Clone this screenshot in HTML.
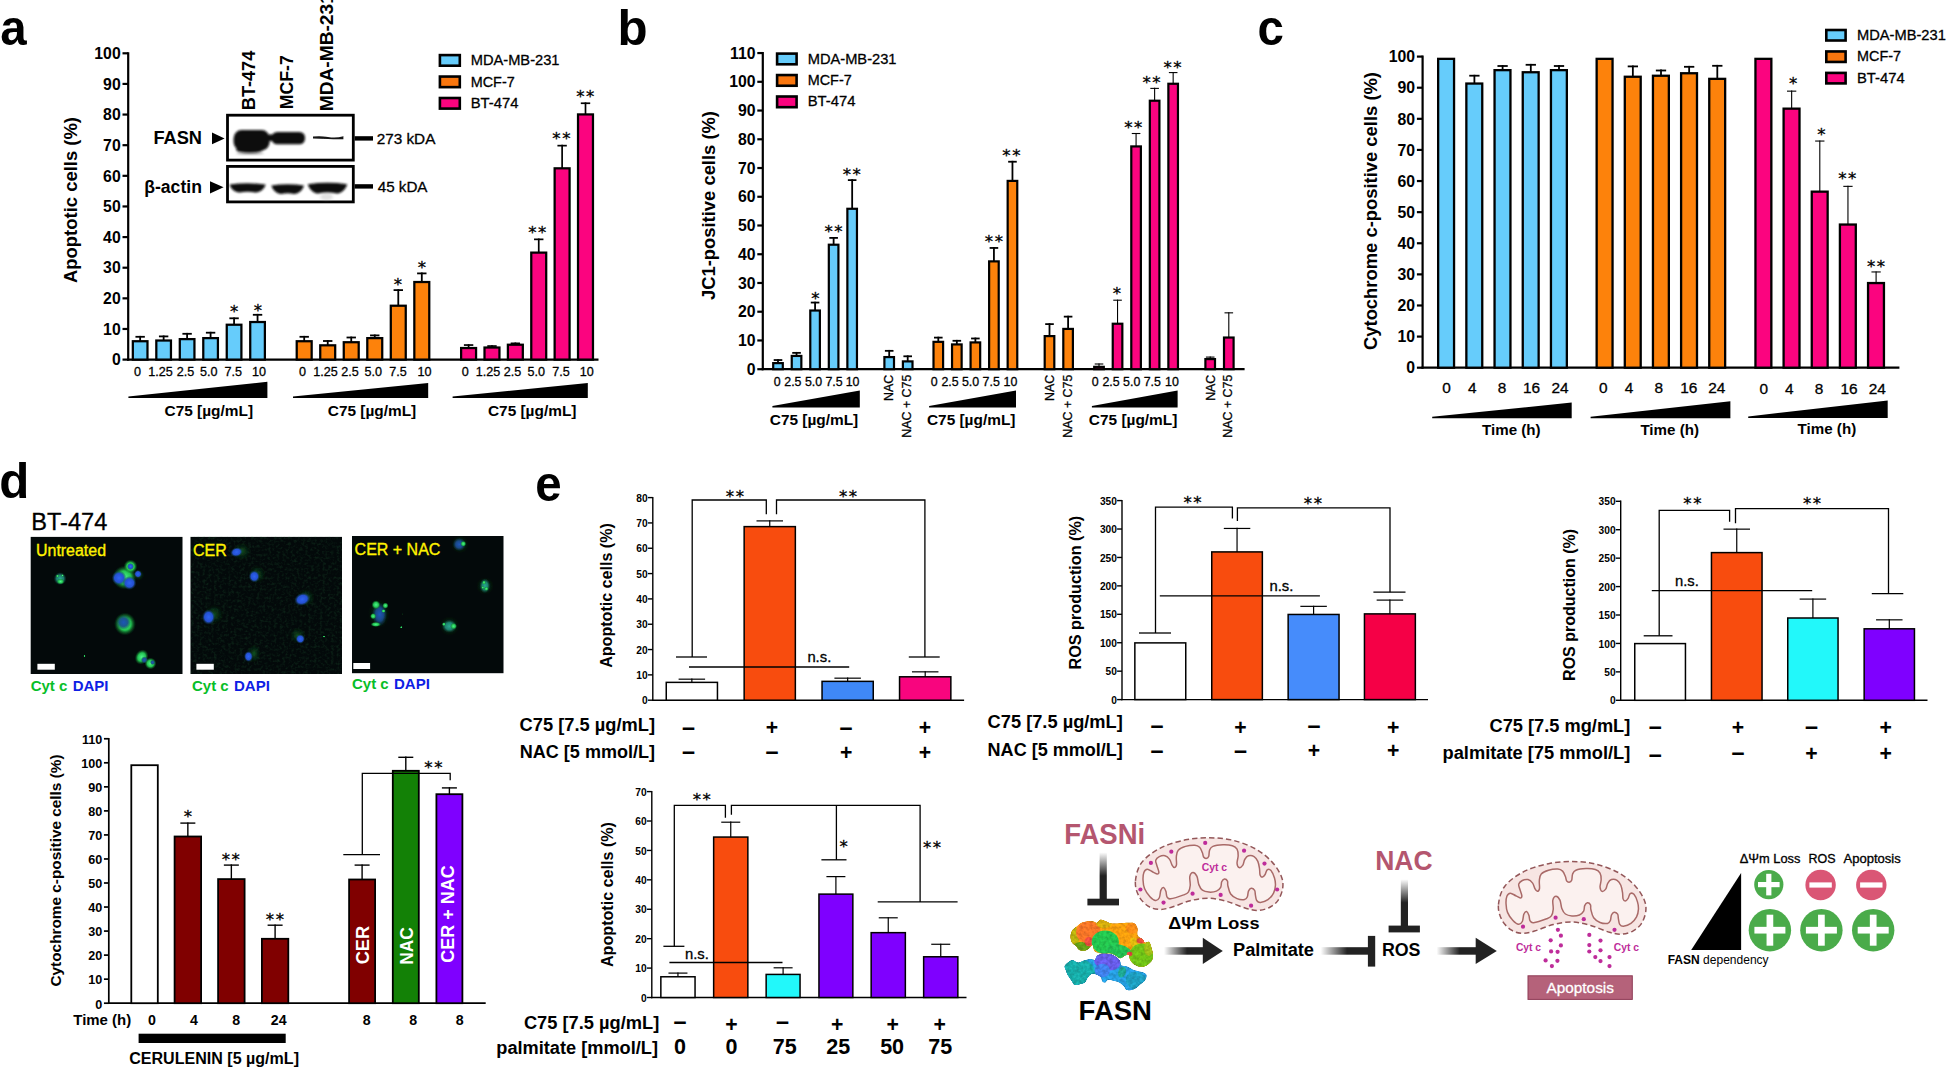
<!DOCTYPE html>
<html lang="en"><head><meta charset="utf-8"><title>FASN figure</title>
<style>html,body{margin:0;padding:0;background:#fff;overflow:hidden}svg{display:block}</style></head>
<body>
<svg width="1946" height="1068" viewBox="0 0 1946 1068" font-family="'Liberation Sans', sans-serif">
<rect width="1946" height="1068" fill="#fff"/>
<defs>
<filter id="b1" x="-30%" y="-30%" width="160%" height="160%"><feGaussianBlur stdDeviation="1"/></filter>
<filter id="b15" x="-30%" y="-30%" width="160%" height="160%"><feGaussianBlur stdDeviation="1.5"/></filter>
<filter id="b2" x="-30%" y="-30%" width="160%" height="160%"><feGaussianBlur stdDeviation="2.2"/></filter>
<filter id="b06" x="-30%" y="-30%" width="160%" height="160%"><feGaussianBlur stdDeviation="0.6"/></filter>
<linearGradient id="fadeR" x1="0" x2="1" y1="0" y2="0"><stop offset="0" stop-color="#222" stop-opacity="0"/><stop offset="0.55" stop-color="#222" stop-opacity="1"/></linearGradient>
<linearGradient id="fadeD" x1="0" x2="0" y1="0" y2="1"><stop offset="0" stop-color="#222" stop-opacity="0"/><stop offset="0.5" stop-color="#222" stop-opacity="1"/></linearGradient>
</defs>
<text x="0.2" y="44.9" font-size="50" font-weight="bold" textLength="26.41" lengthAdjust="spacingAndGlyphs">a</text>
<text x="617.6" y="44.7" font-size="50" font-weight="bold" textLength="30.09" lengthAdjust="spacingAndGlyphs">b</text>
<text x="1257.4" y="44.7" font-size="50" font-weight="bold" textLength="26.41" lengthAdjust="spacingAndGlyphs">c</text>
<text x="-0.8" y="498.2" font-size="50" font-weight="bold" textLength="30.09" lengthAdjust="spacingAndGlyphs">d</text>
<text x="535.2" y="501.2" font-size="50" font-weight="bold" textLength="26.41" lengthAdjust="spacingAndGlyphs">e</text>
<line x1="128.2" y1="52.2" x2="128.2" y2="360.7" stroke="#000" stroke-width="2.2"/>
<line x1="122.5" y1="359.6" x2="128.2" y2="359.6" stroke="#000" stroke-width="2.2"/>
<text x="120.7" y="365.29" font-size="15.8" font-weight="bold" text-anchor="end">0</text>
<line x1="122.5" y1="328.97" x2="128.2" y2="328.97" stroke="#000" stroke-width="2.2"/>
<text x="120.7" y="334.66" font-size="15.8" font-weight="bold" text-anchor="end">10</text>
<line x1="122.5" y1="298.34" x2="128.2" y2="298.34" stroke="#000" stroke-width="2.2"/>
<text x="120.7" y="304.03" font-size="15.8" font-weight="bold" text-anchor="end">20</text>
<line x1="122.5" y1="267.71" x2="128.2" y2="267.71" stroke="#000" stroke-width="2.2"/>
<text x="120.7" y="273.4" font-size="15.8" font-weight="bold" text-anchor="end">30</text>
<line x1="122.5" y1="237.08" x2="128.2" y2="237.08" stroke="#000" stroke-width="2.2"/>
<text x="120.7" y="242.77" font-size="15.8" font-weight="bold" text-anchor="end">40</text>
<line x1="122.5" y1="206.45" x2="128.2" y2="206.45" stroke="#000" stroke-width="2.2"/>
<text x="120.7" y="212.14" font-size="15.8" font-weight="bold" text-anchor="end">50</text>
<line x1="122.5" y1="175.82" x2="128.2" y2="175.82" stroke="#000" stroke-width="2.2"/>
<text x="120.7" y="181.51" font-size="15.8" font-weight="bold" text-anchor="end">60</text>
<line x1="122.5" y1="145.19" x2="128.2" y2="145.19" stroke="#000" stroke-width="2.2"/>
<text x="120.7" y="150.88" font-size="15.8" font-weight="bold" text-anchor="end">70</text>
<line x1="122.5" y1="114.56" x2="128.2" y2="114.56" stroke="#000" stroke-width="2.2"/>
<text x="120.7" y="120.25" font-size="15.8" font-weight="bold" text-anchor="end">80</text>
<line x1="122.5" y1="83.93" x2="128.2" y2="83.93" stroke="#000" stroke-width="2.2"/>
<text x="120.7" y="89.62" font-size="15.8" font-weight="bold" text-anchor="end">90</text>
<line x1="122.5" y1="53.3" x2="128.2" y2="53.3" stroke="#000" stroke-width="2.2"/>
<text x="120.7" y="58.99" font-size="15.8" font-weight="bold" text-anchor="end">100</text>
<line x1="127.1" y1="359.6" x2="598.5" y2="359.6" stroke="#000" stroke-width="2.2"/>
<text x="76.5" y="200" font-size="18.2" font-weight="bold" text-anchor="middle" transform="rotate(-90 76.5 200)" textLength="166" lengthAdjust="spacingAndGlyphs">Apoptotic cells (%)</text>
<line x1="140.15" y1="335.9" x2="140.15" y2="341.1" stroke="#000" stroke-width="1.8"/>
<line x1="135.45" y1="336.8" x2="144.85" y2="336.8" stroke="#000" stroke-width="1.8"/>
<rect x="132.83" y="341.23" width="14.65" height="18.38" fill="#66CCFB" stroke="#000" stroke-width="2.25"/>
<line x1="163.63" y1="335.5" x2="163.63" y2="340.4" stroke="#000" stroke-width="1.8"/>
<line x1="158.93" y1="336.4" x2="168.33" y2="336.4" stroke="#000" stroke-width="1.8"/>
<rect x="156.31" y="340.52" width="14.65" height="19.08" fill="#66CCFB" stroke="#000" stroke-width="2.25"/>
<line x1="187.11" y1="332.9" x2="187.11" y2="339" stroke="#000" stroke-width="1.8"/>
<line x1="182.41" y1="333.8" x2="191.81" y2="333.8" stroke="#000" stroke-width="1.8"/>
<rect x="179.79" y="339.12" width="14.65" height="20.48" fill="#66CCFB" stroke="#000" stroke-width="2.25"/>
<line x1="210.59" y1="331.8" x2="210.59" y2="338" stroke="#000" stroke-width="1.8"/>
<line x1="205.89" y1="332.7" x2="215.29" y2="332.7" stroke="#000" stroke-width="1.8"/>
<rect x="203.27" y="338.12" width="14.65" height="21.48" fill="#66CCFB" stroke="#000" stroke-width="2.25"/>
<line x1="234.07" y1="317.4" x2="234.07" y2="324.6" stroke="#000" stroke-width="1.8"/>
<line x1="229.37" y1="318.3" x2="238.77" y2="318.3" stroke="#000" stroke-width="1.8"/>
<rect x="226.75" y="324.73" width="14.65" height="34.88" fill="#66CCFB" stroke="#000" stroke-width="2.25"/>
<line x1="257.55" y1="313.9" x2="257.55" y2="321.9" stroke="#000" stroke-width="1.8"/>
<line x1="252.85" y1="314.8" x2="262.25" y2="314.8" stroke="#000" stroke-width="1.8"/>
<rect x="250.23" y="322.02" width="14.65" height="37.58" fill="#66CCFB" stroke="#000" stroke-width="2.25"/>
<text x="137.6" y="376.2" font-size="12.6" stroke="#000" stroke-width="0.3" text-anchor="middle">0</text>
<text x="160.4" y="376.2" font-size="12.6" stroke="#000" stroke-width="0.3" text-anchor="middle">1.25</text>
<text x="185.4" y="376.2" font-size="12.6" stroke="#000" stroke-width="0.3" text-anchor="middle">2.5</text>
<text x="208.7" y="376.2" font-size="12.6" stroke="#000" stroke-width="0.3" text-anchor="middle">5.0</text>
<text x="233.2" y="376.2" font-size="12.6" stroke="#000" stroke-width="0.3" text-anchor="middle">7.5</text>
<text x="259.1" y="376.2" font-size="12.6" stroke="#000" stroke-width="0.3" text-anchor="middle">10</text>
<line x1="304.2" y1="335.9" x2="304.2" y2="341.1" stroke="#000" stroke-width="1.8"/>
<line x1="299.5" y1="336.8" x2="308.9" y2="336.8" stroke="#000" stroke-width="1.8"/>
<rect x="296.72" y="341.23" width="14.95" height="18.38" fill="#FD820B" stroke="#000" stroke-width="2.25"/>
<line x1="327.72" y1="340.1" x2="327.72" y2="345.2" stroke="#000" stroke-width="1.8"/>
<line x1="323.02" y1="341" x2="332.42" y2="341" stroke="#000" stroke-width="1.8"/>
<rect x="320.24" y="345.32" width="14.95" height="14.28" fill="#FD820B" stroke="#000" stroke-width="2.25"/>
<line x1="351.24" y1="336.6" x2="351.24" y2="342.1" stroke="#000" stroke-width="1.8"/>
<line x1="346.54" y1="337.5" x2="355.94" y2="337.5" stroke="#000" stroke-width="1.8"/>
<rect x="343.76" y="342.23" width="14.95" height="17.38" fill="#FD820B" stroke="#000" stroke-width="2.25"/>
<line x1="374.76" y1="334.5" x2="374.76" y2="338" stroke="#000" stroke-width="1.8"/>
<line x1="370.06" y1="335.4" x2="379.46" y2="335.4" stroke="#000" stroke-width="1.8"/>
<rect x="367.28" y="338.12" width="14.95" height="21.48" fill="#FD820B" stroke="#000" stroke-width="2.25"/>
<line x1="398.28" y1="289.2" x2="398.28" y2="305.6" stroke="#000" stroke-width="1.8"/>
<line x1="393.58" y1="290.1" x2="402.98" y2="290.1" stroke="#000" stroke-width="1.8"/>
<rect x="390.8" y="305.73" width="14.95" height="53.88" fill="#FD820B" stroke="#000" stroke-width="2.25"/>
<line x1="421.8" y1="272.5" x2="421.8" y2="281.9" stroke="#000" stroke-width="1.8"/>
<line x1="417.1" y1="273.4" x2="426.5" y2="273.4" stroke="#000" stroke-width="1.8"/>
<rect x="414.32" y="282.02" width="14.95" height="77.58" fill="#FD820B" stroke="#000" stroke-width="2.25"/>
<text x="302.5" y="376.2" font-size="12.6" stroke="#000" stroke-width="0.3" text-anchor="middle">0</text>
<text x="325.4" y="376.2" font-size="12.6" stroke="#000" stroke-width="0.3" text-anchor="middle">1.25</text>
<text x="349.9" y="376.2" font-size="12.6" stroke="#000" stroke-width="0.3" text-anchor="middle">2.5</text>
<text x="373.2" y="376.2" font-size="12.6" stroke="#000" stroke-width="0.3" text-anchor="middle">5.0</text>
<text x="397.9" y="376.2" font-size="12.6" stroke="#000" stroke-width="0.3" text-anchor="middle">7.5</text>
<text x="424.5" y="376.2" font-size="12.6" stroke="#000" stroke-width="0.3" text-anchor="middle">10</text>
<line x1="468.6" y1="344.2" x2="468.6" y2="347.9" stroke="#000" stroke-width="1.7"/>
<line x1="463.9" y1="345.05" x2="473.3" y2="345.05" stroke="#000" stroke-width="1.7"/>
<rect x="461.12" y="348.02" width="14.95" height="11.58" fill="#FB047F" stroke="#000" stroke-width="2.25"/>
<line x1="491.98" y1="345.2" x2="491.98" y2="347.4" stroke="#000" stroke-width="1.7"/>
<line x1="487.28" y1="346.05" x2="496.68" y2="346.05" stroke="#000" stroke-width="1.7"/>
<rect x="484.5" y="347.52" width="14.95" height="12.08" fill="#FB047F" stroke="#000" stroke-width="2.25"/>
<line x1="515.36" y1="342.5" x2="515.36" y2="344.6" stroke="#000" stroke-width="1.7"/>
<line x1="510.66" y1="343.35" x2="520.06" y2="343.35" stroke="#000" stroke-width="1.7"/>
<rect x="507.88" y="344.73" width="14.95" height="14.88" fill="#FB047F" stroke="#000" stroke-width="2.25"/>
<line x1="538.74" y1="238.5" x2="538.74" y2="252.5" stroke="#000" stroke-width="1.7"/>
<line x1="534.04" y1="239.35" x2="543.44" y2="239.35" stroke="#000" stroke-width="1.7"/>
<rect x="531.26" y="252.62" width="14.95" height="106.98" fill="#FB047F" stroke="#000" stroke-width="2.25"/>
<line x1="562.12" y1="144.8" x2="562.12" y2="168.2" stroke="#000" stroke-width="1.7"/>
<line x1="557.42" y1="145.65" x2="566.82" y2="145.65" stroke="#000" stroke-width="1.7"/>
<rect x="554.64" y="168.32" width="14.95" height="191.28" fill="#FB047F" stroke="#000" stroke-width="2.25"/>
<line x1="585.5" y1="102.4" x2="585.5" y2="114.3" stroke="#000" stroke-width="1.7"/>
<line x1="580.8" y1="103.25" x2="590.2" y2="103.25" stroke="#000" stroke-width="1.7"/>
<rect x="578.02" y="114.42" width="14.95" height="245.18" fill="#FB047F" stroke="#000" stroke-width="2.25"/>
<text x="465.2" y="376.2" font-size="12.6" stroke="#000" stroke-width="0.3" text-anchor="middle">0</text>
<text x="488.1" y="376.2" font-size="12.6" stroke="#000" stroke-width="0.3" text-anchor="middle">1.25</text>
<text x="512.6" y="376.2" font-size="12.6" stroke="#000" stroke-width="0.3" text-anchor="middle">2.5</text>
<text x="536.3" y="376.2" font-size="12.6" stroke="#000" stroke-width="0.3" text-anchor="middle">5.0</text>
<text x="561" y="376.2" font-size="12.6" stroke="#000" stroke-width="0.3" text-anchor="middle">7.5</text>
<text x="586.8" y="376.2" font-size="12.6" stroke="#000" stroke-width="0.3" text-anchor="middle">10</text>
<text x="234.2" y="316.84" font-size="16.6" font-family="'DejaVu Sans', sans-serif" text-anchor="middle" stroke="#000" stroke-width="0.3">*</text>
<text x="257.9" y="315.54" font-size="16.6" font-family="'DejaVu Sans', sans-serif" text-anchor="middle" stroke="#000" stroke-width="0.3">*</text>
<text x="397.9" y="289.84" font-size="16.6" font-family="'DejaVu Sans', sans-serif" text-anchor="middle" stroke="#000" stroke-width="0.3">*</text>
<text x="422" y="272.54" font-size="16.6" font-family="'DejaVu Sans', sans-serif" text-anchor="middle" stroke="#000" stroke-width="0.3">*</text>
<text x="532.4 542.2" y="237.94" font-size="16.6" font-family="'DejaVu Sans', sans-serif" text-anchor="middle" stroke="#000" stroke-width="0.3">**</text>
<text x="556.5 566.3" y="144.44" font-size="16.6" font-family="'DejaVu Sans', sans-serif" text-anchor="middle" stroke="#000" stroke-width="0.3">**</text>
<text x="580.4 590.2" y="102.34" font-size="16.6" font-family="'DejaVu Sans', sans-serif" text-anchor="middle" stroke="#000" stroke-width="0.3">**</text>
<polygon points="128.4,396.6 267.4,381.7 267.4,398 128.4,398" fill="#000"/>
<polygon points="293,396.6 428.2,382.9 428.2,398 293,398" fill="#000"/>
<polygon points="452.6,396.6 587.8,382.9 587.8,398 452.6,398" fill="#000"/>
<text x="208.8" y="416" font-size="15" font-weight="bold" text-anchor="middle" textLength="88.5" lengthAdjust="spacingAndGlyphs">C75 [µg/mL]</text>
<text x="372" y="416" font-size="15" font-weight="bold" text-anchor="middle" textLength="88.5" lengthAdjust="spacingAndGlyphs">C75 [µg/mL]</text>
<text x="532.2" y="416" font-size="15" font-weight="bold" text-anchor="middle" textLength="88.5" lengthAdjust="spacingAndGlyphs">C75 [µg/mL]</text>
<rect x="439.9" y="55.1" width="19.9" height="10.6" fill="#66CCFB" stroke="#000" stroke-width="2.6"/>
<text x="470.7" y="65.1" font-size="15" stroke="#000" stroke-width="0.3" textLength="88.8" lengthAdjust="spacingAndGlyphs">MDA-MB-231</text>
<rect x="439.9" y="76.55" width="19.9" height="10.6" fill="#F9760E" stroke="#000" stroke-width="2.6"/>
<text x="470.7" y="86.55" font-size="15" stroke="#000" stroke-width="0.3" textLength="44" lengthAdjust="spacingAndGlyphs">MCF-7</text>
<rect x="439.9" y="98" width="19.9" height="10.6" fill="#FB047F" stroke="#000" stroke-width="2.6"/>
<text x="470.7" y="108" font-size="15" stroke="#000" stroke-width="0.3" textLength="47.7" lengthAdjust="spacingAndGlyphs">BT-474</text>
<rect x="227.5" y="115.2" width="125.8" height="44.9" fill="#fff" stroke="#000" stroke-width="2.8"/>
<rect x="227.5" y="166.4" width="125.8" height="35.5" fill="#fff" stroke="#000" stroke-width="2.8"/>
<g filter="url(#b1)" fill="#0c0c0c">
<rect x="233.6" y="130" width="36" height="20.4" rx="8" ry="8.5"/><ellipse cx="249.5" cy="149.6" rx="13.5" ry="3.4"/>
<rect x="271.6" y="131.9" width="33.4" height="12.4" rx="5.5"/><rect x="268.5" y="134.5" width="4.5" height="6.5"/>
</g>
<ellipse cx="250" cy="153.3" rx="14" ry="1.3" fill="#666" opacity="0.55" filter="url(#b1)"/>
<path d="M313 136.6 Q320 135.6 328 137 T343.4 136.2 L343.4 139.2 Q336 139.4 328 139 T313 138.6Z" fill="#141414" filter="url(#b06)"/>
<g filter="url(#b1)" fill="#101010">
<path d="M229.6 184.6 Q247.6 181.8 265.6 184.6 C264.6 188.6 260.6 192.6 255.6 192.6 Q247.6 191 239.6 192.6 C234.6 192.6 230.6 188.6 229.6 184.6Z"/>
<path d="M271.4 185.6 Q287.7 182.8 304 185.6 C303 189.6 299 194 294 194 Q287.7 192.4 281.4 194 C276.4 194 272.4 189.6 271.4 185.6Z"/>
<path d="M307.8 184.2 Q327.5 181.4 347.2 184.2 C346.2 188.2 342.2 193.4 337.2 193.4 Q327.5 191.8 317.8 193.4 C312.8 193.4 308.8 188.2 307.8 184.2Z"/>
</g>
<ellipse cx="326.5" cy="196.8" rx="6.5" ry="3.6" fill="#999" opacity="0.3" filter="url(#b15)"/>
<rect x="354.6" y="136.2" width="18.4" height="4.4" fill="#000"/>
<rect x="354.6" y="184.2" width="18.4" height="4.4" fill="#000"/>
<text x="376.7" y="144.2" font-size="15" stroke="#000" stroke-width="0.3" textLength="58.7" lengthAdjust="spacingAndGlyphs">273 kDA</text>
<text x="377.7" y="192" font-size="15" stroke="#000" stroke-width="0.3" textLength="49.8" lengthAdjust="spacingAndGlyphs">45 kDA</text>
<text x="202" y="144.3" font-size="17.6" font-weight="bold" text-anchor="end" textLength="48.6" lengthAdjust="spacingAndGlyphs">FASN</text>
<text x="201.9" y="193.4" font-size="17.6" font-weight="bold" text-anchor="end">β-actin</text>
<polygon points="212,132.6 224.6,138.4 212,144.2" fill="#000"/>
<polygon points="210,181.2 223.6,187.3 210,193.4" fill="#000"/>
<text x="255.2" y="110.2" font-size="19" font-weight="bold" transform="rotate(-90 255.2 110.2)" textLength="59.5" lengthAdjust="spacingAndGlyphs">BT-474</text>
<text x="293.3" y="109.2" font-size="19" font-weight="bold" transform="rotate(-90 293.3 109.2)" textLength="54" lengthAdjust="spacingAndGlyphs">MCF-7</text>
<text x="332.6" y="111.2" font-size="19" font-weight="bold" transform="rotate(-90 332.6 111.2)" textLength="118" lengthAdjust="spacingAndGlyphs">MDA-MB-231</text>
<line x1="762.8" y1="51.96" x2="762.8" y2="370.3" stroke="#000" stroke-width="2.2"/>
<line x1="757.3" y1="369.2" x2="762.8" y2="369.2" stroke="#000" stroke-width="2.2"/>
<text x="755.5" y="374.89" font-size="15.8" font-weight="bold" text-anchor="end">0</text>
<line x1="757.3" y1="340.46" x2="762.8" y2="340.46" stroke="#000" stroke-width="2.2"/>
<text x="755.5" y="346.15" font-size="15.8" font-weight="bold" text-anchor="end">10</text>
<line x1="757.3" y1="311.72" x2="762.8" y2="311.72" stroke="#000" stroke-width="2.2"/>
<text x="755.5" y="317.41" font-size="15.8" font-weight="bold" text-anchor="end">20</text>
<line x1="757.3" y1="282.98" x2="762.8" y2="282.98" stroke="#000" stroke-width="2.2"/>
<text x="755.5" y="288.67" font-size="15.8" font-weight="bold" text-anchor="end">30</text>
<line x1="757.3" y1="254.24" x2="762.8" y2="254.24" stroke="#000" stroke-width="2.2"/>
<text x="755.5" y="259.93" font-size="15.8" font-weight="bold" text-anchor="end">40</text>
<line x1="757.3" y1="225.5" x2="762.8" y2="225.5" stroke="#000" stroke-width="2.2"/>
<text x="755.5" y="231.19" font-size="15.8" font-weight="bold" text-anchor="end">50</text>
<line x1="757.3" y1="196.76" x2="762.8" y2="196.76" stroke="#000" stroke-width="2.2"/>
<text x="755.5" y="202.45" font-size="15.8" font-weight="bold" text-anchor="end">60</text>
<line x1="757.3" y1="168.02" x2="762.8" y2="168.02" stroke="#000" stroke-width="2.2"/>
<text x="755.5" y="173.71" font-size="15.8" font-weight="bold" text-anchor="end">70</text>
<line x1="757.3" y1="139.28" x2="762.8" y2="139.28" stroke="#000" stroke-width="2.2"/>
<text x="755.5" y="144.97" font-size="15.8" font-weight="bold" text-anchor="end">80</text>
<line x1="757.3" y1="110.54" x2="762.8" y2="110.54" stroke="#000" stroke-width="2.2"/>
<text x="755.5" y="116.23" font-size="15.8" font-weight="bold" text-anchor="end">90</text>
<line x1="757.3" y1="81.8" x2="762.8" y2="81.8" stroke="#000" stroke-width="2.2"/>
<text x="755.5" y="87.49" font-size="15.8" font-weight="bold" text-anchor="end">100</text>
<line x1="757.3" y1="53.06" x2="762.8" y2="53.06" stroke="#000" stroke-width="2.2"/>
<text x="755.5" y="58.75" font-size="15.8" font-weight="bold" text-anchor="end">110</text>
<line x1="761.7" y1="369.2" x2="1244.6" y2="369.2" stroke="#000" stroke-width="2.2"/>
<text x="714.6" y="205.5" font-size="18.2" font-weight="bold" text-anchor="middle" transform="rotate(-90 714.6 205.5)" textLength="189" lengthAdjust="spacingAndGlyphs">JC1-positive cells (%)</text>
<line x1="778" y1="359.14" x2="778" y2="363.01" stroke="#000" stroke-width="1.8"/>
<line x1="773.7" y1="360.04" x2="782.3" y2="360.04" stroke="#000" stroke-width="1.8"/>
<rect x="773.2" y="363.12" width="9.6" height="6.09" fill="#66CCFB" stroke="#000" stroke-width="2.2"/>
<line x1="796.54" y1="351.96" x2="796.54" y2="355.83" stroke="#000" stroke-width="1.8"/>
<line x1="792.24" y1="352.86" x2="800.84" y2="352.86" stroke="#000" stroke-width="1.8"/>
<rect x="791.74" y="355.93" width="9.6" height="13.27" fill="#66CCFB" stroke="#000" stroke-width="2.2"/>
<line x1="815.08" y1="301.66" x2="815.08" y2="310.42" stroke="#000" stroke-width="1.8"/>
<line x1="810.78" y1="302.56" x2="819.38" y2="302.56" stroke="#000" stroke-width="1.8"/>
<rect x="810.28" y="310.52" width="9.6" height="58.68" fill="#66CCFB" stroke="#000" stroke-width="2.2"/>
<line x1="833.62" y1="237" x2="833.62" y2="244.61" stroke="#000" stroke-width="1.8"/>
<line x1="829.32" y1="237.9" x2="837.92" y2="237.9" stroke="#000" stroke-width="1.8"/>
<rect x="828.82" y="244.71" width="9.6" height="124.49" fill="#66CCFB" stroke="#000" stroke-width="2.2"/>
<line x1="852.16" y1="179.23" x2="852.16" y2="208.68" stroke="#000" stroke-width="1.8"/>
<line x1="847.86" y1="180.13" x2="856.46" y2="180.13" stroke="#000" stroke-width="1.8"/>
<rect x="847.36" y="208.78" width="9.6" height="160.42" fill="#66CCFB" stroke="#000" stroke-width="2.2"/>
<line x1="889.2" y1="349.94" x2="889.2" y2="356.98" stroke="#000" stroke-width="1.8"/>
<line x1="884.9" y1="350.84" x2="893.5" y2="350.84" stroke="#000" stroke-width="1.8"/>
<rect x="884.4" y="357.08" width="9.6" height="12.12" fill="#66CCFB" stroke="#000" stroke-width="2.2"/>
<line x1="907.7" y1="355.4" x2="907.7" y2="361.29" stroke="#000" stroke-width="1.8"/>
<line x1="903.4" y1="356.3" x2="912" y2="356.3" stroke="#000" stroke-width="1.8"/>
<rect x="902.9" y="361.39" width="9.6" height="7.81" fill="#66CCFB" stroke="#000" stroke-width="2.2"/>
<line x1="938.3" y1="336.72" x2="938.3" y2="341.75" stroke="#000" stroke-width="1.8"/>
<line x1="934" y1="337.62" x2="942.6" y2="337.62" stroke="#000" stroke-width="1.8"/>
<rect x="933.5" y="341.85" width="9.6" height="27.35" fill="#FD820B" stroke="#000" stroke-width="2.2"/>
<line x1="956.84" y1="339.89" x2="956.84" y2="344.33" stroke="#000" stroke-width="1.8"/>
<line x1="952.54" y1="340.79" x2="961.14" y2="340.79" stroke="#000" stroke-width="1.8"/>
<rect x="952.04" y="344.43" width="9.6" height="24.77" fill="#FD820B" stroke="#000" stroke-width="2.2"/>
<line x1="975.38" y1="337.59" x2="975.38" y2="342.32" stroke="#000" stroke-width="1.8"/>
<line x1="971.08" y1="338.49" x2="979.68" y2="338.49" stroke="#000" stroke-width="1.8"/>
<rect x="970.58" y="342.42" width="9.6" height="26.78" fill="#FD820B" stroke="#000" stroke-width="2.2"/>
<line x1="993.92" y1="247.05" x2="993.92" y2="261.28" stroke="#000" stroke-width="1.8"/>
<line x1="989.62" y1="247.95" x2="998.22" y2="247.95" stroke="#000" stroke-width="1.8"/>
<rect x="989.12" y="261.38" width="9.6" height="107.82" fill="#FD820B" stroke="#000" stroke-width="2.2"/>
<line x1="1012.46" y1="160.83" x2="1012.46" y2="180.8" stroke="#000" stroke-width="1.8"/>
<line x1="1008.16" y1="161.73" x2="1016.76" y2="161.73" stroke="#000" stroke-width="1.8"/>
<rect x="1007.66" y="180.9" width="9.6" height="188.3" fill="#FD820B" stroke="#000" stroke-width="2.2"/>
<line x1="1049.5" y1="323.22" x2="1049.5" y2="336" stroke="#000" stroke-width="1.8"/>
<line x1="1045.2" y1="324.12" x2="1053.8" y2="324.12" stroke="#000" stroke-width="1.8"/>
<rect x="1044.7" y="336.1" width="9.6" height="33.1" fill="#FD820B" stroke="#000" stroke-width="2.2"/>
<line x1="1068.1" y1="315.74" x2="1068.1" y2="328.81" stroke="#000" stroke-width="1.8"/>
<line x1="1063.8" y1="316.64" x2="1072.4" y2="316.64" stroke="#000" stroke-width="1.8"/>
<rect x="1063.3" y="328.91" width="9.6" height="40.29" fill="#FD820B" stroke="#000" stroke-width="2.2"/>
<line x1="1099" y1="363.45" x2="1099" y2="366.75" stroke="#000" stroke-width="1.1"/>
<line x1="1094.7" y1="364" x2="1103.3" y2="364" stroke="#000" stroke-width="1.1"/>
<rect x="1094.2" y="366.85" width="9.6" height="2.35" fill="#FB047F" stroke="#000" stroke-width="2.2"/>
<line x1="1117.54" y1="299.65" x2="1117.54" y2="323.64" stroke="#000" stroke-width="1.1"/>
<line x1="1113.24" y1="300.2" x2="1121.84" y2="300.2" stroke="#000" stroke-width="1.1"/>
<rect x="1112.74" y="323.74" width="9.6" height="45.46" fill="#FB047F" stroke="#000" stroke-width="2.2"/>
<line x1="1136.08" y1="132.96" x2="1136.08" y2="146.32" stroke="#000" stroke-width="1.1"/>
<line x1="1131.78" y1="133.51" x2="1140.38" y2="133.51" stroke="#000" stroke-width="1.1"/>
<rect x="1131.28" y="146.42" width="9.6" height="222.78" fill="#FB047F" stroke="#000" stroke-width="2.2"/>
<line x1="1154.62" y1="87.84" x2="1154.62" y2="100.62" stroke="#000" stroke-width="1.1"/>
<line x1="1150.32" y1="88.39" x2="1158.92" y2="88.39" stroke="#000" stroke-width="1.1"/>
<rect x="1149.82" y="100.72" width="9.6" height="268.48" fill="#FB047F" stroke="#000" stroke-width="2.2"/>
<line x1="1173.16" y1="72.03" x2="1173.16" y2="83.66" stroke="#000" stroke-width="1.1"/>
<line x1="1168.86" y1="72.58" x2="1177.46" y2="72.58" stroke="#000" stroke-width="1.1"/>
<rect x="1168.36" y="83.76" width="9.6" height="285.44" fill="#FB047F" stroke="#000" stroke-width="2.2"/>
<line x1="1210.2" y1="356.55" x2="1210.2" y2="358.99" stroke="#000" stroke-width="1.1"/>
<line x1="1205.9" y1="357.1" x2="1214.5" y2="357.1" stroke="#000" stroke-width="1.1"/>
<rect x="1205.4" y="359.09" width="9.6" height="10.11" fill="#FB047F" stroke="#000" stroke-width="2.2"/>
<line x1="1228.8" y1="312.29" x2="1228.8" y2="337.44" stroke="#000" stroke-width="1.1"/>
<line x1="1224.5" y1="312.84" x2="1233.1" y2="312.84" stroke="#000" stroke-width="1.1"/>
<rect x="1224" y="337.54" width="9.6" height="31.66" fill="#FB047F" stroke="#000" stroke-width="2.2"/>
<text x="777.2" y="385.5" font-size="12.4" stroke="#000" stroke-width="0.3" text-anchor="middle">0</text>
<text x="792.9" y="385.5" font-size="12.4" stroke="#000" stroke-width="0.3" text-anchor="middle">2.5</text>
<text x="813.5" y="385.5" font-size="12.4" stroke="#000" stroke-width="0.3" text-anchor="middle">5.0</text>
<text x="834.1" y="385.5" font-size="12.4" stroke="#000" stroke-width="0.3" text-anchor="middle">7.5</text>
<text x="852.6" y="385.5" font-size="12.4" stroke="#000" stroke-width="0.3" text-anchor="middle">10</text>
<text x="934.2" y="385.5" font-size="12.4" stroke="#000" stroke-width="0.3" text-anchor="middle">0</text>
<text x="950" y="385.5" font-size="12.4" stroke="#000" stroke-width="0.3" text-anchor="middle">2.5</text>
<text x="970.6" y="385.5" font-size="12.4" stroke="#000" stroke-width="0.3" text-anchor="middle">5.0</text>
<text x="991.2" y="385.5" font-size="12.4" stroke="#000" stroke-width="0.3" text-anchor="middle">7.5</text>
<text x="1010.4" y="385.5" font-size="12.4" stroke="#000" stroke-width="0.3" text-anchor="middle">10</text>
<text x="1095.2" y="385.5" font-size="12.4" stroke="#000" stroke-width="0.3" text-anchor="middle">0</text>
<text x="1111.1" y="385.5" font-size="12.4" stroke="#000" stroke-width="0.3" text-anchor="middle">2.5</text>
<text x="1131.7" y="385.5" font-size="12.4" stroke="#000" stroke-width="0.3" text-anchor="middle">5.0</text>
<text x="1152.3" y="385.5" font-size="12.4" stroke="#000" stroke-width="0.3" text-anchor="middle">7.5</text>
<text x="1171.9" y="385.5" font-size="12.4" stroke="#000" stroke-width="0.3" text-anchor="middle">10</text>
<text x="892.9" y="374.7" font-size="12.4" stroke="#000" stroke-width="0.3" text-anchor="end" transform="rotate(-90 892.9 374.7)">NAC</text>
<text x="911" y="374.7" font-size="12.4" stroke="#000" stroke-width="0.3" text-anchor="end" transform="rotate(-90 911 374.7)">NAC + C75</text>
<text x="1054.3" y="374.7" font-size="12.4" stroke="#000" stroke-width="0.3" text-anchor="end" transform="rotate(-90 1054.3 374.7)">NAC</text>
<text x="1072.2" y="374.7" font-size="12.4" stroke="#000" stroke-width="0.3" text-anchor="end" transform="rotate(-90 1072.2 374.7)">NAC + C75</text>
<text x="1215" y="374.7" font-size="12.4" stroke="#000" stroke-width="0.3" text-anchor="end" transform="rotate(-90 1215 374.7)">NAC</text>
<text x="1232.5" y="374.7" font-size="12.4" stroke="#000" stroke-width="0.3" text-anchor="end" transform="rotate(-90 1232.5 374.7)">NAC + C75</text>
<polygon points="772.4,406 859.8,390.5 859.8,407.5 772.4,407.5" fill="#000"/>
<polygon points="929.1,406 1016,390.5 1016,407.5 929.1,407.5" fill="#000"/>
<polygon points="1091.9,406 1177.6,390.5 1177.6,407.5 1091.9,407.5" fill="#000"/>
<text x="814" y="424.7" font-size="15" font-weight="bold" text-anchor="middle" textLength="88.5" lengthAdjust="spacingAndGlyphs">C75 [µg/mL]</text>
<text x="971.2" y="424.7" font-size="15" font-weight="bold" text-anchor="middle" textLength="88.5" lengthAdjust="spacingAndGlyphs">C75 [µg/mL]</text>
<text x="1133.1" y="424.7" font-size="15" font-weight="bold" text-anchor="middle" textLength="88.5" lengthAdjust="spacingAndGlyphs">C75 [µg/mL]</text>
<text x="815.3" y="304.34" font-size="16.6" font-family="'DejaVu Sans', sans-serif" text-anchor="middle" stroke="#000" stroke-width="0.3">*</text>
<text x="828.7 838.5" y="236.84" font-size="16.6" font-family="'DejaVu Sans', sans-serif" text-anchor="middle" stroke="#000" stroke-width="0.3">**</text>
<text x="846.8 856.6" y="180.04" font-size="16.6" font-family="'DejaVu Sans', sans-serif" text-anchor="middle" stroke="#000" stroke-width="0.3">**</text>
<text x="989 998.8" y="246.54" font-size="16.6" font-family="'DejaVu Sans', sans-serif" text-anchor="middle" stroke="#000" stroke-width="0.3">**</text>
<text x="1006.5 1016.3" y="160.94" font-size="16.6" font-family="'DejaVu Sans', sans-serif" text-anchor="middle" stroke="#000" stroke-width="0.3">**</text>
<text x="1116.9" y="298.64" font-size="16.6" font-family="'DejaVu Sans', sans-serif" text-anchor="middle" stroke="#000" stroke-width="0.3">*</text>
<text x="1128.3 1138.1" y="132.84" font-size="16.6" font-family="'DejaVu Sans', sans-serif" text-anchor="middle" stroke="#000" stroke-width="0.3">**</text>
<text x="1146.6 1156.4" y="88.34" font-size="16.6" font-family="'DejaVu Sans', sans-serif" text-anchor="middle" stroke="#000" stroke-width="0.3">**</text>
<text x="1167.6 1177.4" y="72.74" font-size="16.6" font-family="'DejaVu Sans', sans-serif" text-anchor="middle" stroke="#000" stroke-width="0.3">**</text>
<rect x="777.1" y="53.6" width="19.5" height="10.7" fill="#66CCFB" stroke="#000" stroke-width="2.6"/>
<text x="807.7" y="63.55" font-size="15" stroke="#000" stroke-width="0.3" textLength="88.8" lengthAdjust="spacingAndGlyphs">MDA-MB-231</text>
<rect x="777.1" y="75.05" width="19.5" height="10.7" fill="#F9760E" stroke="#000" stroke-width="2.6"/>
<text x="807.7" y="85" font-size="15" stroke="#000" stroke-width="0.3" textLength="44" lengthAdjust="spacingAndGlyphs">MCF-7</text>
<rect x="777.1" y="96.5" width="19.5" height="10.7" fill="#FB047F" stroke="#000" stroke-width="2.6"/>
<text x="807.7" y="106.45" font-size="15" stroke="#000" stroke-width="0.3" textLength="47.7" lengthAdjust="spacingAndGlyphs">BT-474</text>
<line x1="1422.6" y1="55.5" x2="1422.6" y2="368.8" stroke="#000" stroke-width="2.2"/>
<line x1="1416.9" y1="367.7" x2="1422.6" y2="367.7" stroke="#000" stroke-width="2.2"/>
<text x="1415.1" y="373.39" font-size="15.8" font-weight="bold" text-anchor="end">0</text>
<line x1="1416.9" y1="336.59" x2="1422.6" y2="336.59" stroke="#000" stroke-width="2.2"/>
<text x="1415.1" y="342.28" font-size="15.8" font-weight="bold" text-anchor="end">10</text>
<line x1="1416.9" y1="305.48" x2="1422.6" y2="305.48" stroke="#000" stroke-width="2.2"/>
<text x="1415.1" y="311.17" font-size="15.8" font-weight="bold" text-anchor="end">20</text>
<line x1="1416.9" y1="274.37" x2="1422.6" y2="274.37" stroke="#000" stroke-width="2.2"/>
<text x="1415.1" y="280.06" font-size="15.8" font-weight="bold" text-anchor="end">30</text>
<line x1="1416.9" y1="243.26" x2="1422.6" y2="243.26" stroke="#000" stroke-width="2.2"/>
<text x="1415.1" y="248.95" font-size="15.8" font-weight="bold" text-anchor="end">40</text>
<line x1="1416.9" y1="212.15" x2="1422.6" y2="212.15" stroke="#000" stroke-width="2.2"/>
<text x="1415.1" y="217.84" font-size="15.8" font-weight="bold" text-anchor="end">50</text>
<line x1="1416.9" y1="181.04" x2="1422.6" y2="181.04" stroke="#000" stroke-width="2.2"/>
<text x="1415.1" y="186.73" font-size="15.8" font-weight="bold" text-anchor="end">60</text>
<line x1="1416.9" y1="149.93" x2="1422.6" y2="149.93" stroke="#000" stroke-width="2.2"/>
<text x="1415.1" y="155.62" font-size="15.8" font-weight="bold" text-anchor="end">70</text>
<line x1="1416.9" y1="118.82" x2="1422.6" y2="118.82" stroke="#000" stroke-width="2.2"/>
<text x="1415.1" y="124.51" font-size="15.8" font-weight="bold" text-anchor="end">80</text>
<line x1="1416.9" y1="87.71" x2="1422.6" y2="87.71" stroke="#000" stroke-width="2.2"/>
<text x="1415.1" y="93.4" font-size="15.8" font-weight="bold" text-anchor="end">90</text>
<line x1="1416.9" y1="56.6" x2="1422.6" y2="56.6" stroke="#000" stroke-width="2.2"/>
<text x="1415.1" y="62.29" font-size="15.8" font-weight="bold" text-anchor="end">100</text>
<line x1="1421.5" y1="367.7" x2="1899.4" y2="367.7" stroke="#000" stroke-width="2.2"/>
<text x="1377" y="211" font-size="18.5" font-weight="bold" text-anchor="middle" transform="rotate(-90 1377 211)" textLength="278" lengthAdjust="spacingAndGlyphs">Cytochrome c-positive cells (%)</text>
<rect x="1438.15" y="58.85" width="15.9" height="308.85" fill="#66CCFB" stroke="#000" stroke-width="2.3"/>
<line x1="1474.4" y1="74.8" x2="1474.4" y2="83.4" stroke="#000" stroke-width="1.8"/>
<line x1="1469.25" y1="75.7" x2="1479.55" y2="75.7" stroke="#000" stroke-width="1.8"/>
<rect x="1466.35" y="83.55" width="15.9" height="284.15" fill="#66CCFB" stroke="#000" stroke-width="2.3"/>
<line x1="1502.6" y1="65.1" x2="1502.6" y2="70" stroke="#000" stroke-width="1.8"/>
<line x1="1497.45" y1="66" x2="1507.75" y2="66" stroke="#000" stroke-width="1.8"/>
<rect x="1494.55" y="70.15" width="15.9" height="297.55" fill="#66CCFB" stroke="#000" stroke-width="2.3"/>
<line x1="1530.8" y1="63.9" x2="1530.8" y2="72.1" stroke="#000" stroke-width="1.8"/>
<line x1="1525.65" y1="64.8" x2="1535.95" y2="64.8" stroke="#000" stroke-width="1.8"/>
<rect x="1522.75" y="72.25" width="15.9" height="295.45" fill="#66CCFB" stroke="#000" stroke-width="2.3"/>
<line x1="1559" y1="65.1" x2="1559" y2="70" stroke="#000" stroke-width="1.8"/>
<line x1="1553.85" y1="66" x2="1564.15" y2="66" stroke="#000" stroke-width="1.8"/>
<rect x="1550.95" y="70.15" width="15.9" height="297.55" fill="#66CCFB" stroke="#000" stroke-width="2.3"/>
<rect x="1596.65" y="58.85" width="15.9" height="308.85" fill="#FD820B" stroke="#000" stroke-width="2.3"/>
<line x1="1632.85" y1="65.5" x2="1632.85" y2="76.6" stroke="#000" stroke-width="1.8"/>
<line x1="1627.7" y1="66.4" x2="1638" y2="66.4" stroke="#000" stroke-width="1.8"/>
<rect x="1624.8" y="76.75" width="15.9" height="290.95" fill="#FD820B" stroke="#000" stroke-width="2.3"/>
<line x1="1661" y1="69.6" x2="1661" y2="75.6" stroke="#000" stroke-width="1.8"/>
<line x1="1655.85" y1="70.5" x2="1666.15" y2="70.5" stroke="#000" stroke-width="1.8"/>
<rect x="1652.95" y="75.75" width="15.9" height="291.95" fill="#FD820B" stroke="#000" stroke-width="2.3"/>
<line x1="1689.15" y1="65.9" x2="1689.15" y2="73.1" stroke="#000" stroke-width="1.8"/>
<line x1="1684" y1="66.8" x2="1694.3" y2="66.8" stroke="#000" stroke-width="1.8"/>
<rect x="1681.1" y="73.25" width="15.9" height="294.45" fill="#FD820B" stroke="#000" stroke-width="2.3"/>
<line x1="1717.3" y1="64.9" x2="1717.3" y2="78.7" stroke="#000" stroke-width="1.8"/>
<line x1="1712.15" y1="65.8" x2="1722.45" y2="65.8" stroke="#000" stroke-width="1.8"/>
<rect x="1709.25" y="78.85" width="15.9" height="288.85" fill="#FD820B" stroke="#000" stroke-width="2.3"/>
<rect x="1755.45" y="58.85" width="15.9" height="308.85" fill="#FB047F" stroke="#000" stroke-width="2.3"/>
<line x1="1791.65" y1="90.6" x2="1791.65" y2="108.5" stroke="#000" stroke-width="1.1"/>
<line x1="1787" y1="91.15" x2="1796.3" y2="91.15" stroke="#000" stroke-width="1.1"/>
<rect x="1783.6" y="108.65" width="15.9" height="259.05" fill="#FB047F" stroke="#000" stroke-width="2.3"/>
<line x1="1819.8" y1="140.5" x2="1819.8" y2="191.5" stroke="#000" stroke-width="1.1"/>
<line x1="1815.15" y1="141.05" x2="1824.45" y2="141.05" stroke="#000" stroke-width="1.1"/>
<rect x="1811.75" y="191.65" width="15.9" height="176.05" fill="#FB047F" stroke="#000" stroke-width="2.3"/>
<line x1="1847.95" y1="185.8" x2="1847.95" y2="224.4" stroke="#000" stroke-width="1.1"/>
<line x1="1843.3" y1="186.35" x2="1852.6" y2="186.35" stroke="#000" stroke-width="1.1"/>
<rect x="1839.9" y="224.55" width="15.9" height="143.15" fill="#FB047F" stroke="#000" stroke-width="2.3"/>
<line x1="1876.1" y1="271.4" x2="1876.1" y2="282.9" stroke="#000" stroke-width="1.1"/>
<line x1="1871.45" y1="271.95" x2="1880.75" y2="271.95" stroke="#000" stroke-width="1.1"/>
<rect x="1868.05" y="283.05" width="15.9" height="84.65" fill="#FB047F" stroke="#000" stroke-width="2.3"/>
<text x="1446.5" y="393.2" font-size="15.4" stroke="#000" stroke-width="0.3" text-anchor="middle">0</text>
<text x="1472.2" y="393.2" font-size="15.4" stroke="#000" stroke-width="0.3" text-anchor="middle">4</text>
<text x="1502" y="393.2" font-size="15.4" stroke="#000" stroke-width="0.3" text-anchor="middle">8</text>
<text x="1531.5" y="393.2" font-size="15.4" stroke="#000" stroke-width="0.3" text-anchor="middle">16</text>
<text x="1560" y="393.2" font-size="15.4" stroke="#000" stroke-width="0.3" text-anchor="middle">24</text>
<text x="1603.3" y="393.2" font-size="15.4" stroke="#000" stroke-width="0.3" text-anchor="middle">0</text>
<text x="1629" y="393.2" font-size="15.4" stroke="#000" stroke-width="0.3" text-anchor="middle">4</text>
<text x="1658.8" y="393.2" font-size="15.4" stroke="#000" stroke-width="0.3" text-anchor="middle">8</text>
<text x="1688.7" y="393.2" font-size="15.4" stroke="#000" stroke-width="0.3" text-anchor="middle">16</text>
<text x="1716.8" y="393.2" font-size="15.4" stroke="#000" stroke-width="0.3" text-anchor="middle">24</text>
<text x="1763.7" y="393.8" font-size="15.4" stroke="#000" stroke-width="0.3" text-anchor="middle">0</text>
<text x="1789.4" y="393.8" font-size="15.4" stroke="#000" stroke-width="0.3" text-anchor="middle">4</text>
<text x="1819.1" y="393.8" font-size="15.4" stroke="#000" stroke-width="0.3" text-anchor="middle">8</text>
<text x="1849.1" y="393.8" font-size="15.4" stroke="#000" stroke-width="0.3" text-anchor="middle">16</text>
<text x="1877.2" y="393.8" font-size="15.4" stroke="#000" stroke-width="0.3" text-anchor="middle">24</text>
<polygon points="1432.2,416.8 1571.7,402.5 1571.7,418.3 1432.2,418.3" fill="#000"/>
<polygon points="1590.6,416.8 1730.4,401.3 1730.4,418.3 1590.6,418.3" fill="#000"/>
<polygon points="1748.2,416.4 1887.7,400.6 1887.7,417.9 1748.2,417.9" fill="#000"/>
<text x="1511.3" y="435.2" font-size="15" font-weight="bold" text-anchor="middle" textLength="58.6" lengthAdjust="spacingAndGlyphs">Time (h)</text>
<text x="1669.7" y="435.2" font-size="15" font-weight="bold" text-anchor="middle" textLength="58.6" lengthAdjust="spacingAndGlyphs">Time (h)</text>
<text x="1826.9" y="434" font-size="15" font-weight="bold" text-anchor="middle" textLength="58.6" lengthAdjust="spacingAndGlyphs">Time (h)</text>
<text x="1793.2" y="89.44" font-size="16.6" font-family="'DejaVu Sans', sans-serif" text-anchor="middle" stroke="#000" stroke-width="0.3">*</text>
<text x="1821.4" y="140.24" font-size="16.6" font-family="'DejaVu Sans', sans-serif" text-anchor="middle" stroke="#000" stroke-width="0.3">*</text>
<text x="1842.4 1852.2" y="184.14" font-size="16.6" font-family="'DejaVu Sans', sans-serif" text-anchor="middle" stroke="#000" stroke-width="0.3">**</text>
<text x="1871.1 1880.9" y="271.74" font-size="16.6" font-family="'DejaVu Sans', sans-serif" text-anchor="middle" stroke="#000" stroke-width="0.3">**</text>
<rect x="1826.3" y="30" width="19.3" height="10.5" fill="#66CCFB" stroke="#000" stroke-width="2.6"/>
<text x="1857" y="40" font-size="15" stroke="#000" stroke-width="0.3" textLength="88.8" lengthAdjust="spacingAndGlyphs">MDA-MB-231</text>
<rect x="1826.3" y="51.45" width="19.3" height="10.5" fill="#F9760E" stroke="#000" stroke-width="2.6"/>
<text x="1857" y="61.45" font-size="15" stroke="#000" stroke-width="0.3" textLength="44" lengthAdjust="spacingAndGlyphs">MCF-7</text>
<rect x="1826.3" y="72.9" width="19.3" height="10.5" fill="#FB047F" stroke="#000" stroke-width="2.6"/>
<text x="1857" y="82.9" font-size="15" stroke="#000" stroke-width="0.3" textLength="47.7" lengthAdjust="spacingAndGlyphs">BT-474</text>
<text x="31.2" y="530.3" font-size="23.6" stroke="#000" stroke-width="0.3">BT-474</text>
<rect x="30.7" y="536.9" width="151.8" height="137.1" fill="#03090a"/>
<rect x="190.5" y="536.9" width="151.5" height="137.1" fill="#03090a"/>
<rect x="352" y="536" width="151.5" height="137.2" fill="#03090a"/>
<defs>
<radialGradient id="gcell"><stop offset="0" stop-color="#2f6cff"/><stop offset="0.5" stop-color="#2a8df0"/><stop offset="0.72" stop-color="#2fe070"/><stop offset="1" stop-color="#12a030" stop-opacity="0"/></radialGradient>
<radialGradient id="gblue"><stop offset="0" stop-color="#2f63f2"/><stop offset="0.6" stop-color="#2450d0"/><stop offset="1" stop-color="#0c3a40" stop-opacity="0"/></radialGradient>
<radialGradient id="ggreen"><stop offset="0" stop-color="#4cf58a"/><stop offset="0.55" stop-color="#22c050"/><stop offset="1" stop-color="#0a6020" stop-opacity="0"/></radialGradient>
<radialGradient id="gteal"><stop offset="0" stop-color="#1f55b8"/><stop offset="0.55" stop-color="#1a4a90" stop-opacity="0.9"/><stop offset="1" stop-color="#0c3a50" stop-opacity="0"/></radialGradient>
<radialGradient id="gteal2"><stop offset="0" stop-color="#2aa890"/><stop offset="0.55" stop-color="#1f8a78" stop-opacity="0.9"/><stop offset="1" stop-color="#0c4a40" stop-opacity="0"/></radialGradient>
<radialGradient id="ghaze"><stop offset="0" stop-color="#1d8a30" stop-opacity="0.55"/><stop offset="1" stop-color="#0a4018" stop-opacity="0"/></radialGradient>
<clipPath id="cl1"><rect x="30.7" y="536.9" width="151.8" height="137.1"/></clipPath>
<clipPath id="cl2"><rect x="190.5" y="536.9" width="151.5" height="137.1"/></clipPath>
<clipPath id="cl3"><rect x="352" y="536" width="151.5" height="137.2"/></clipPath>
</defs>
<g clip-path="url(#cl1)" filter="url(#b06)">
<ellipse cx="60.1" cy="578.6" rx="6.5" ry="6.5" fill="url(#gteal2)"/>
<ellipse cx="60.5" cy="581.5" rx="4" ry="3" fill="url(#ggreen)"/>
<ellipse cx="57.5" cy="576" rx="1.6" ry="1.6" fill="url(#ggreen)"/>
<ellipse cx="62.5" cy="575.5" rx="1.4" ry="1.4" fill="url(#ggreen)"/>
<ellipse cx="124.5" cy="577.5" rx="12" ry="12" fill="url(#ggreen)"/>
<ellipse cx="119" cy="578" rx="7.5" ry="7.5" fill="url(#gblue)"/>
<ellipse cx="129.5" cy="583" rx="7" ry="7" fill="url(#gblue)"/>
<ellipse cx="130.5" cy="566.5" rx="7" ry="7" fill="url(#ggreen)"/>
<ellipse cx="130.5" cy="566.5" rx="3.4" ry="3.4" fill="url(#gblue)"/>
<ellipse cx="138.5" cy="575" rx="6" ry="6" fill="url(#ghaze)"/>
<ellipse cx="138" cy="574" rx="4" ry="4" fill="url(#gblue)"/>
<ellipse cx="125" cy="624" rx="11" ry="11.5" fill="url(#ggreen)"/>
<ellipse cx="123.6" cy="622.3" rx="7.4" ry="7.4" fill="url(#gteal)"/>
<ellipse cx="141.6" cy="657" rx="6.6" ry="8" fill="url(#ggreen)" transform="rotate(30 141.6 657)"/>
<ellipse cx="144.5" cy="660" rx="3.6" ry="3.6" fill="url(#gteal)"/>
<ellipse cx="150.5" cy="663.5" rx="6" ry="6" fill="url(#ggreen)"/>
<ellipse cx="152.6" cy="662.4" rx="2.6" ry="2.6" fill="url(#gteal)"/>
<ellipse cx="84.5" cy="656" rx="1.2" ry="1.2" fill="url(#ggreen)"/>
</g>
<filter id="gnoise" x="0" y="0" width="100%" height="100%"><feTurbulence type="fractalNoise" baseFrequency="0.35" numOctaves="2" seed="3"/><feColorMatrix type="matrix" values="0 0 0 0 0.05  0 0 0 0 0.45  0 0 0 0 0.12  0 1.6 0 0 -0.72"/></filter>
<rect x="190.5" y="536.9" width="151.5" height="137.1" filter="url(#gnoise)" opacity="0.22"/>
<g clip-path="url(#cl2)" filter="url(#b06)">
<ellipse cx="242" cy="551.5" rx="9" ry="9" fill="url(#ghaze)"/>
<ellipse cx="236.5" cy="552.1" rx="6.4" ry="4.8" fill="url(#gblue)" transform="rotate(-15 236.5 552.1)"/>
<ellipse cx="257" cy="574.5" rx="9" ry="9" fill="url(#ghaze)"/>
<ellipse cx="254.3" cy="576.4" rx="5.6" ry="6.2" fill="url(#gblue)"/>
<ellipse cx="306" cy="597.5" rx="9" ry="9" fill="url(#ghaze)"/>
<ellipse cx="302.3" cy="599.3" rx="8.4" ry="6.4" fill="url(#gblue)" transform="rotate(-20 302.3 599.3)"/>
<ellipse cx="214" cy="614.5" rx="10" ry="10" fill="url(#ghaze)"/>
<ellipse cx="208.6" cy="617.1" rx="6.8" ry="7.8" fill="url(#gblue)"/>
<ellipse cx="297.5" cy="635.5" rx="8" ry="8" fill="url(#ghaze)"/>
<ellipse cx="300.3" cy="638.9" rx="4.8" ry="4.8" fill="url(#gblue)"/>
<ellipse cx="254" cy="653.5" rx="7" ry="9.5" fill="url(#ghaze)"/>
<ellipse cx="248.5" cy="656.5" rx="4.6" ry="5.6" fill="url(#gblue)"/>
<ellipse cx="324" cy="636.5" rx="1.1" ry="1.1" fill="url(#ggreen)"/>
</g>
<g clip-path="url(#cl3)" filter="url(#b06)">
<ellipse cx="460" cy="544.4" rx="9" ry="9" fill="url(#ghaze)"/>
<ellipse cx="485" cy="586" rx="9" ry="9" fill="url(#ghaze)"/>
<ellipse cx="379" cy="613.5" rx="11" ry="15" fill="url(#ghaze)"/>
<ellipse cx="449.5" cy="626" rx="10" ry="10" fill="url(#ghaze)"/>
<ellipse cx="459.2" cy="544.4" rx="6.6" ry="6.6" fill="url(#gteal)"/>
<ellipse cx="463.3" cy="543.8" rx="3" ry="3" fill="url(#ggreen)"/>
<ellipse cx="484.9" cy="585.8" rx="5.4" ry="7.4" fill="url(#gteal2)"/>
<ellipse cx="484" cy="582.5" rx="2" ry="2" fill="url(#ggreen)"/>
<ellipse cx="486.3" cy="588.8" rx="2.2" ry="2.2" fill="url(#ggreen)"/>
<ellipse cx="482.8" cy="587.5" rx="1.6" ry="1.6" fill="url(#ggreen)"/>
<ellipse cx="379.6" cy="614.4" rx="7.6" ry="12" fill="url(#gteal)"/>
<ellipse cx="376" cy="604.8" rx="4.6" ry="4.6" fill="url(#ggreen)"/>
<ellipse cx="385.4" cy="605.6" rx="3.2" ry="3.2" fill="url(#ggreen)"/>
<ellipse cx="373.2" cy="616.2" rx="3.2" ry="3.2" fill="url(#ggreen)"/>
<ellipse cx="375.8" cy="624.4" rx="5.4" ry="2.6" fill="url(#ggreen)"/>
<ellipse cx="383.5" cy="611" rx="2" ry="2" fill="url(#ggreen)"/>
<ellipse cx="449.4" cy="626.2" rx="7.6" ry="6.6" fill="url(#gteal2)"/>
<ellipse cx="453.6" cy="626.2" rx="3.4" ry="3.4" fill="url(#ggreen)"/>
<ellipse cx="443.9" cy="624.2" rx="2" ry="2" fill="url(#ggreen)"/>
<ellipse cx="401.3" cy="627.3" rx="1.3" ry="1.3" fill="url(#ggreen)"/>
<ellipse cx="402.6" cy="614.1" rx="1" ry="1" fill="url(#ghaze)"/>
</g>
<text x="36" y="555.6" font-size="16" fill="#FFF200" textLength="70" lengthAdjust="spacingAndGlyphs" stroke="#FFF200" stroke-width="0.35">Untreated</text>
<text x="193" y="555.6" font-size="16" fill="#FFF200" stroke="#FFF200" stroke-width="0.35">CER</text>
<text x="354.6" y="555.2" font-size="16" fill="#FFF200" stroke="#FFF200" stroke-width="0.35">CER + NAC</text>
<rect x="37.4" y="663.8" width="17.4" height="5.9" fill="#fff"/>
<rect x="196.4" y="663.8" width="17.4" height="5.9" fill="#fff"/>
<rect x="353.3" y="663" width="16.8" height="6" fill="#fff"/>
<text x="30.7" y="690.6" font-size="15" font-weight="bold" fill="#08BE28">Cyt c</text>
<text x="72.7" y="690.6" font-size="15" font-weight="bold" fill="#0E1EE4">DAPI</text>
<text x="192" y="690.6" font-size="15" font-weight="bold" fill="#08BE28">Cyt c</text>
<text x="234" y="690.6" font-size="15" font-weight="bold" fill="#0E1EE4">DAPI</text>
<text x="352" y="689.2" font-size="15" font-weight="bold" fill="#08BE28">Cyt c</text>
<text x="394" y="689.2" font-size="15" font-weight="bold" fill="#0E1EE4">DAPI</text>
<line x1="108.8" y1="737.91" x2="108.8" y2="1004.05" stroke="#000" stroke-width="1.7"/>
<line x1="103.95" y1="1003.2" x2="108.8" y2="1003.2" stroke="#000" stroke-width="1.7"/>
<text x="102.35" y="1008.5" font-size="12.6" font-weight="bold" text-anchor="end">0</text>
<line x1="103.95" y1="979.16" x2="108.8" y2="979.16" stroke="#000" stroke-width="1.7"/>
<text x="102.35" y="984.46" font-size="12.6" font-weight="bold" text-anchor="end">10</text>
<line x1="103.95" y1="955.12" x2="108.8" y2="955.12" stroke="#000" stroke-width="1.7"/>
<text x="102.35" y="960.42" font-size="12.6" font-weight="bold" text-anchor="end">20</text>
<line x1="103.95" y1="931.08" x2="108.8" y2="931.08" stroke="#000" stroke-width="1.7"/>
<text x="102.35" y="936.38" font-size="12.6" font-weight="bold" text-anchor="end">30</text>
<line x1="103.95" y1="907.04" x2="108.8" y2="907.04" stroke="#000" stroke-width="1.7"/>
<text x="102.35" y="912.34" font-size="12.6" font-weight="bold" text-anchor="end">40</text>
<line x1="103.95" y1="883" x2="108.8" y2="883" stroke="#000" stroke-width="1.7"/>
<text x="102.35" y="888.3" font-size="12.6" font-weight="bold" text-anchor="end">50</text>
<line x1="103.95" y1="858.96" x2="108.8" y2="858.96" stroke="#000" stroke-width="1.7"/>
<text x="102.35" y="864.26" font-size="12.6" font-weight="bold" text-anchor="end">60</text>
<line x1="103.95" y1="834.92" x2="108.8" y2="834.92" stroke="#000" stroke-width="1.7"/>
<text x="102.35" y="840.22" font-size="12.6" font-weight="bold" text-anchor="end">70</text>
<line x1="103.95" y1="810.88" x2="108.8" y2="810.88" stroke="#000" stroke-width="1.7"/>
<text x="102.35" y="816.18" font-size="12.6" font-weight="bold" text-anchor="end">80</text>
<line x1="103.95" y1="786.84" x2="108.8" y2="786.84" stroke="#000" stroke-width="1.7"/>
<text x="102.35" y="792.14" font-size="12.6" font-weight="bold" text-anchor="end">90</text>
<line x1="103.95" y1="762.8" x2="108.8" y2="762.8" stroke="#000" stroke-width="1.7"/>
<text x="102.35" y="768.1" font-size="12.6" font-weight="bold" text-anchor="end">100</text>
<line x1="103.95" y1="738.76" x2="108.8" y2="738.76" stroke="#000" stroke-width="1.7"/>
<text x="102.35" y="744.06" font-size="12.6" font-weight="bold" text-anchor="end">110</text>
<line x1="107.95" y1="1003.2" x2="485.7" y2="1003.2" stroke="#000" stroke-width="1.7"/>
<text x="61.2" y="870.5" font-size="15.4" font-weight="bold" text-anchor="middle" transform="rotate(-90 61.2 870.5)" textLength="232" lengthAdjust="spacingAndGlyphs">Cytochrome c-positive cells (%)</text>
<rect x="131.3" y="765.2" width="26.5" height="238" fill="#fff" stroke="#000" stroke-width="1.8"/>
<line x1="187.85" y1="822.4" x2="187.85" y2="836.6" stroke="#000" stroke-width="1.4"/>
<line x1="180.35" y1="823.1" x2="195.35" y2="823.1" stroke="#000" stroke-width="1.4"/>
<rect x="174.6" y="836.5" width="26.5" height="166.7" fill="#800000" stroke="#000" stroke-width="1.8"/>
<line x1="231.35" y1="864.4" x2="231.35" y2="879.2" stroke="#000" stroke-width="1.4"/>
<line x1="223.85" y1="865.1" x2="238.85" y2="865.1" stroke="#000" stroke-width="1.4"/>
<rect x="218.1" y="879.1" width="26.5" height="124.1" fill="#800000" stroke="#000" stroke-width="1.8"/>
<line x1="275.1" y1="924.5" x2="275.1" y2="938.9" stroke="#000" stroke-width="1.4"/>
<line x1="267.6" y1="925.2" x2="282.6" y2="925.2" stroke="#000" stroke-width="1.4"/>
<rect x="261.9" y="938.8" width="26.4" height="64.4" fill="#800000" stroke="#000" stroke-width="1.8"/>
<line x1="362.1" y1="864.4" x2="362.1" y2="879.6" stroke="#000" stroke-width="1.4"/>
<line x1="354.6" y1="865.1" x2="369.6" y2="865.1" stroke="#000" stroke-width="1.4"/>
<rect x="349.1" y="879.5" width="26" height="123.7" fill="#800000" stroke="#000" stroke-width="1.8"/>
<line x1="405.8" y1="756.6" x2="405.8" y2="770.9" stroke="#000" stroke-width="1.4"/>
<line x1="398.3" y1="757.3" x2="413.3" y2="757.3" stroke="#000" stroke-width="1.4"/>
<rect x="392.8" y="770.8" width="26" height="232.4" fill="#138106" stroke="#000" stroke-width="1.8"/>
<line x1="449.4" y1="787.2" x2="449.4" y2="794.3" stroke="#000" stroke-width="1.4"/>
<line x1="441.9" y1="787.9" x2="456.9" y2="787.9" stroke="#000" stroke-width="1.4"/>
<rect x="436.4" y="794.2" width="26" height="209" fill="#7F00FF" stroke="#000" stroke-width="1.8"/>
<text x="187.9" y="821.94" font-size="16.6" font-family="'DejaVu Sans', sans-serif" text-anchor="middle" stroke="#000" stroke-width="0.3">*</text>
<text x="225.9 235.7" y="864.74" font-size="16.6" font-family="'DejaVu Sans', sans-serif" text-anchor="middle" stroke="#000" stroke-width="0.3">**</text>
<text x="270 279.8" y="925.14" font-size="16.6" font-family="'DejaVu Sans', sans-serif" text-anchor="middle" stroke="#000" stroke-width="0.3">**</text>
<text x="428.5 438.3" y="773.24" font-size="16.6" font-family="'DejaVu Sans', sans-serif" text-anchor="middle" stroke="#000" stroke-width="0.3">**</text>
<path d="M362.3 854.7 V773.3 H450.2 V780.2" fill="none" stroke="#000" stroke-width="1.3"/>
<line x1="343.3" y1="854.7" x2="380" y2="854.7" stroke="#000" stroke-width="1.3"/>
<text x="73.3" y="1025.2" font-size="15" font-weight="bold" textLength="57.9" lengthAdjust="spacingAndGlyphs">Time (h)</text>
<text x="152" y="1025.2" font-size="14.2" font-weight="bold" text-anchor="middle">0</text>
<text x="194" y="1025.2" font-size="14.2" font-weight="bold" text-anchor="middle">4</text>
<text x="236.2" y="1025.2" font-size="14.2" font-weight="bold" text-anchor="middle">8</text>
<text x="278.7" y="1025.2" font-size="14.2" font-weight="bold" text-anchor="middle">24</text>
<text x="366.7" y="1025.2" font-size="14.2" font-weight="bold" text-anchor="middle">8</text>
<text x="413.3" y="1025.2" font-size="14.2" font-weight="bold" text-anchor="middle">8</text>
<text x="459.6" y="1025.2" font-size="14.2" font-weight="bold" text-anchor="middle">8</text>
<rect x="138.6" y="1033.7" width="147.1" height="9.3" fill="#000"/>
<text x="129.2" y="1063.5" font-size="15.6" font-weight="bold" textLength="169.8" lengthAdjust="spacingAndGlyphs">CERULENIN [5 µg/mL]</text>
<text x="369.3" y="964.3" font-size="18.4" font-weight="bold" transform="rotate(-90 369.3 964.3)" fill="#fff" textLength="38.4" lengthAdjust="spacingAndGlyphs">CER</text>
<text x="412.6" y="964.7" font-size="18.4" font-weight="bold" transform="rotate(-90 412.6 964.7)" fill="#fff" textLength="37.6" lengthAdjust="spacingAndGlyphs">NAC</text>
<text x="454.4" y="962.7" font-size="18.4" font-weight="bold" transform="rotate(-90 454.4 962.7)" fill="#fff" textLength="97.4" lengthAdjust="spacingAndGlyphs">CER + NAC</text>
<line x1="652.8" y1="496.9" x2="652.8" y2="700.9" stroke="#000" stroke-width="1.4"/>
<line x1="647.9" y1="700.2" x2="652.8" y2="700.2" stroke="#000" stroke-width="1.4"/>
<text x="647.7" y="704.3" font-size="10.2" font-weight="bold" text-anchor="end">0</text>
<line x1="647.9" y1="674.88" x2="652.8" y2="674.88" stroke="#000" stroke-width="1.4"/>
<text x="647.7" y="678.98" font-size="10.2" font-weight="bold" text-anchor="end">10</text>
<line x1="647.9" y1="649.55" x2="652.8" y2="649.55" stroke="#000" stroke-width="1.4"/>
<text x="647.7" y="653.65" font-size="10.2" font-weight="bold" text-anchor="end">20</text>
<line x1="647.9" y1="624.23" x2="652.8" y2="624.23" stroke="#000" stroke-width="1.4"/>
<text x="647.7" y="628.33" font-size="10.2" font-weight="bold" text-anchor="end">30</text>
<line x1="647.9" y1="598.9" x2="652.8" y2="598.9" stroke="#000" stroke-width="1.4"/>
<text x="647.7" y="603" font-size="10.2" font-weight="bold" text-anchor="end">40</text>
<line x1="647.9" y1="573.58" x2="652.8" y2="573.58" stroke="#000" stroke-width="1.4"/>
<text x="647.7" y="577.68" font-size="10.2" font-weight="bold" text-anchor="end">50</text>
<line x1="647.9" y1="548.25" x2="652.8" y2="548.25" stroke="#000" stroke-width="1.4"/>
<text x="647.7" y="552.35" font-size="10.2" font-weight="bold" text-anchor="end">60</text>
<line x1="647.9" y1="522.93" x2="652.8" y2="522.93" stroke="#000" stroke-width="1.4"/>
<text x="647.7" y="527.03" font-size="10.2" font-weight="bold" text-anchor="end">70</text>
<line x1="647.9" y1="497.6" x2="652.8" y2="497.6" stroke="#000" stroke-width="1.4"/>
<text x="647.7" y="501.7" font-size="10.2" font-weight="bold" text-anchor="end">80</text>
<line x1="652.1" y1="700.2" x2="964.1" y2="700.2" stroke="#000" stroke-width="1.4"/>
<line x1="691.85" y1="678.58" x2="691.85" y2="683.22" stroke="#000" stroke-width="1.2"/>
<line x1="678.6" y1="679.18" x2="705.1" y2="679.18" stroke="#000" stroke-width="1.2"/>
<rect x="666.25" y="682.37" width="51.2" height="17.83" fill="#fff" stroke="#000" stroke-width="1.5"/>
<line x1="769.75" y1="520.3" x2="769.75" y2="527.47" stroke="#000" stroke-width="1.2"/>
<line x1="756.5" y1="520.9" x2="783" y2="520.9" stroke="#000" stroke-width="1.2"/>
<rect x="744.15" y="526.62" width="51.2" height="173.58" fill="#F84C0E" stroke="#000" stroke-width="1.5"/>
<line x1="847.65" y1="677.57" x2="847.65" y2="682.21" stroke="#000" stroke-width="1.2"/>
<line x1="834.4" y1="678.17" x2="860.9" y2="678.17" stroke="#000" stroke-width="1.2"/>
<rect x="822.05" y="681.36" width="51.2" height="18.84" fill="#3F88F7" stroke="#000" stroke-width="1.5"/>
<line x1="925.2" y1="671.24" x2="925.2" y2="677.65" stroke="#000" stroke-width="1.2"/>
<line x1="911.95" y1="671.84" x2="938.45" y2="671.84" stroke="#000" stroke-width="1.2"/>
<rect x="899.55" y="676.8" width="51.3" height="23.4" fill="#F8057E" stroke="#000" stroke-width="1.5"/>
<text x="611.6" y="595.5" font-size="16" font-weight="bold" text-anchor="middle" transform="rotate(-90 611.6 595.5)" textLength="144.6" lengthAdjust="spacingAndGlyphs">Apoptotic cells (%)</text>
<path d="M692.2 657 V500 H766.3 V514.3" fill="none" stroke="#000" stroke-width="1.3"/>
<line x1="676" y1="657" x2="707" y2="657" stroke="#000" stroke-width="1.3"/>
<path d="M776.5 514.3 V500 H924.9 V657" fill="none" stroke="#000" stroke-width="1.3"/>
<line x1="908.8" y1="657" x2="939.7" y2="657" stroke="#000" stroke-width="1.3"/>
<line x1="689" y1="667" x2="849.2" y2="667" stroke="#000" stroke-width="1.3"/>
<text x="807.4" y="661.7" font-size="14.8" stroke="#000" stroke-width="0.3">n.s.</text>
<text x="730 739.8" y="502.04" font-size="16.6" font-family="'DejaVu Sans', sans-serif" text-anchor="middle" stroke="#000" stroke-width="0.3">**</text>
<text x="843.2 853" y="502.04" font-size="16.6" font-family="'DejaVu Sans', sans-serif" text-anchor="middle" stroke="#000" stroke-width="0.3">**</text>
<text x="655" y="731.3" font-size="18" font-weight="bold" text-anchor="end" textLength="135.4" lengthAdjust="spacingAndGlyphs">C75 [7.5 µg/mL]</text>
<text x="655" y="757.6" font-size="18" font-weight="bold" text-anchor="end" textLength="135.2" lengthAdjust="spacingAndGlyphs">NAC [5 mmol/L]</text>
<text x="682.02" y="734.99" font-size="23.4" font-weight="bold">–</text>
<text x="682.02" y="759.49" font-size="23.4" font-weight="bold">–</text>
<text x="765.71" y="735.35" font-size="21.2" font-weight="bold">+</text>
<text x="765.42" y="759.49" font-size="23.4" font-weight="bold">–</text>
<text x="839.62" y="734.99" font-size="23.4" font-weight="bold">–</text>
<text x="839.91" y="759.85" font-size="21.2" font-weight="bold">+</text>
<text x="918.71" y="735.35" font-size="21.2" font-weight="bold">+</text>
<text x="918.71" y="759.85" font-size="21.2" font-weight="bold">+</text>
<line x1="1122" y1="499.89" x2="1122" y2="700.3" stroke="#000" stroke-width="1.4"/>
<line x1="1117.1" y1="699.6" x2="1122" y2="699.6" stroke="#000" stroke-width="1.4"/>
<text x="1116.9" y="703.7" font-size="10.2" font-weight="bold" text-anchor="end">0</text>
<line x1="1117.1" y1="671.17" x2="1122" y2="671.17" stroke="#000" stroke-width="1.4"/>
<text x="1116.9" y="675.27" font-size="10.2" font-weight="bold" text-anchor="end">50</text>
<line x1="1117.1" y1="642.74" x2="1122" y2="642.74" stroke="#000" stroke-width="1.4"/>
<text x="1116.9" y="646.84" font-size="10.2" font-weight="bold" text-anchor="end">100</text>
<line x1="1117.1" y1="614.31" x2="1122" y2="614.31" stroke="#000" stroke-width="1.4"/>
<text x="1116.9" y="618.41" font-size="10.2" font-weight="bold" text-anchor="end">150</text>
<line x1="1117.1" y1="585.88" x2="1122" y2="585.88" stroke="#000" stroke-width="1.4"/>
<text x="1116.9" y="589.98" font-size="10.2" font-weight="bold" text-anchor="end">200</text>
<line x1="1117.1" y1="557.45" x2="1122" y2="557.45" stroke="#000" stroke-width="1.4"/>
<text x="1116.9" y="561.55" font-size="10.2" font-weight="bold" text-anchor="end">250</text>
<line x1="1117.1" y1="529.02" x2="1122" y2="529.02" stroke="#000" stroke-width="1.4"/>
<text x="1116.9" y="533.12" font-size="10.2" font-weight="bold" text-anchor="end">300</text>
<line x1="1117.1" y1="500.59" x2="1122" y2="500.59" stroke="#000" stroke-width="1.4"/>
<text x="1116.9" y="504.69" font-size="10.2" font-weight="bold" text-anchor="end">350</text>
<line x1="1121.3" y1="699.6" x2="1428" y2="699.6" stroke="#000" stroke-width="1.4"/>
<rect x="1134.85" y="642.89" width="50.9" height="56.71" fill="#fff" stroke="#000" stroke-width="1.5"/>
<line x1="1237.05" y1="527.85" x2="1237.05" y2="552.76" stroke="#000" stroke-width="1.2"/>
<line x1="1223.8" y1="528.45" x2="1250.3" y2="528.45" stroke="#000" stroke-width="1.2"/>
<rect x="1211.75" y="551.91" width="50.6" height="147.69" fill="#F84C0E" stroke="#000" stroke-width="1.5"/>
<line x1="1313.6" y1="605.75" x2="1313.6" y2="615.31" stroke="#000" stroke-width="1.2"/>
<line x1="1300.35" y1="606.35" x2="1326.85" y2="606.35" stroke="#000" stroke-width="1.2"/>
<rect x="1288.15" y="614.46" width="50.9" height="85.14" fill="#468CFB" stroke="#000" stroke-width="1.5"/>
<line x1="1389.9" y1="599.5" x2="1389.9" y2="614.74" stroke="#000" stroke-width="1.2"/>
<line x1="1376.65" y1="600.1" x2="1403.15" y2="600.1" stroke="#000" stroke-width="1.2"/>
<rect x="1364.45" y="613.89" width="50.9" height="85.71" fill="#F50046" stroke="#000" stroke-width="1.5"/>
<text x="1081" y="592.6" font-size="16.2" font-weight="bold" text-anchor="middle" transform="rotate(-90 1081 592.6)" textLength="153.6" lengthAdjust="spacingAndGlyphs">ROS production (%)</text>
<path d="M1155.5 633 V507.2 H1232.4 V518.6" fill="none" stroke="#000" stroke-width="1.3"/>
<line x1="1139" y1="633" x2="1171" y2="633" stroke="#000" stroke-width="1.3"/>
<path d="M1237.4 521 V507.8 H1390 V592.2" fill="none" stroke="#000" stroke-width="1.3"/>
<line x1="1373.4" y1="592.2" x2="1405.5" y2="592.2" stroke="#000" stroke-width="1.3"/>
<line x1="1159.8" y1="595.9" x2="1319.9" y2="595.9" stroke="#000" stroke-width="1.3"/>
<text x="1269.5" y="590.6" font-size="14.8" stroke="#000" stroke-width="0.3">n.s.</text>
<text x="1187.6 1197.4" y="507.54" font-size="16.6" font-family="'DejaVu Sans', sans-serif" text-anchor="middle" stroke="#000" stroke-width="0.3">**</text>
<text x="1308 1317.8" y="508.54" font-size="16.6" font-family="'DejaVu Sans', sans-serif" text-anchor="middle" stroke="#000" stroke-width="0.3">**</text>
<text x="1122.8" y="728.4" font-size="18" font-weight="bold" text-anchor="end" textLength="135.2" lengthAdjust="spacingAndGlyphs">C75 [7.5 µg/mL]</text>
<text x="1122.8" y="755.6" font-size="18" font-weight="bold" text-anchor="end" textLength="135.2" lengthAdjust="spacingAndGlyphs">NAC [5 mmol/L]</text>
<text x="1150.52" y="732.99" font-size="23.4" font-weight="bold">–</text>
<text x="1150.52" y="757.59" font-size="23.4" font-weight="bold">–</text>
<text x="1234.31" y="734.75" font-size="21.2" font-weight="bold">+</text>
<text x="1234.02" y="757.59" font-size="23.4" font-weight="bold">–</text>
<text x="1307.52" y="732.99" font-size="23.4" font-weight="bold">–</text>
<text x="1307.81" y="757.95" font-size="21.2" font-weight="bold">+</text>
<text x="1387.01" y="734.75" font-size="21.2" font-weight="bold">+</text>
<text x="1387.01" y="757.95" font-size="21.2" font-weight="bold">+</text>
<line x1="1620.7" y1="500.59" x2="1620.7" y2="701" stroke="#000" stroke-width="1.4"/>
<line x1="1615.8" y1="700.3" x2="1620.7" y2="700.3" stroke="#000" stroke-width="1.4"/>
<text x="1615.6" y="704.4" font-size="10.2" font-weight="bold" text-anchor="end">0</text>
<line x1="1615.8" y1="671.87" x2="1620.7" y2="671.87" stroke="#000" stroke-width="1.4"/>
<text x="1615.6" y="675.97" font-size="10.2" font-weight="bold" text-anchor="end">50</text>
<line x1="1615.8" y1="643.44" x2="1620.7" y2="643.44" stroke="#000" stroke-width="1.4"/>
<text x="1615.6" y="647.54" font-size="10.2" font-weight="bold" text-anchor="end">100</text>
<line x1="1615.8" y1="615.01" x2="1620.7" y2="615.01" stroke="#000" stroke-width="1.4"/>
<text x="1615.6" y="619.11" font-size="10.2" font-weight="bold" text-anchor="end">150</text>
<line x1="1615.8" y1="586.58" x2="1620.7" y2="586.58" stroke="#000" stroke-width="1.4"/>
<text x="1615.6" y="590.68" font-size="10.2" font-weight="bold" text-anchor="end">200</text>
<line x1="1615.8" y1="558.15" x2="1620.7" y2="558.15" stroke="#000" stroke-width="1.4"/>
<text x="1615.6" y="562.25" font-size="10.2" font-weight="bold" text-anchor="end">250</text>
<line x1="1615.8" y1="529.72" x2="1620.7" y2="529.72" stroke="#000" stroke-width="1.4"/>
<text x="1615.6" y="533.82" font-size="10.2" font-weight="bold" text-anchor="end">300</text>
<line x1="1615.8" y1="501.29" x2="1620.7" y2="501.29" stroke="#000" stroke-width="1.4"/>
<text x="1615.6" y="505.39" font-size="10.2" font-weight="bold" text-anchor="end">350</text>
<line x1="1620" y1="700.3" x2="1927.5" y2="700.3" stroke="#000" stroke-width="1.4"/>
<rect x="1634.75" y="643.59" width="50.7" height="56.71" fill="#fff" stroke="#000" stroke-width="1.5"/>
<line x1="1736.75" y1="528.55" x2="1736.75" y2="553.46" stroke="#000" stroke-width="1.2"/>
<line x1="1723.5" y1="529.15" x2="1750" y2="529.15" stroke="#000" stroke-width="1.2"/>
<rect x="1711.45" y="552.61" width="50.6" height="147.69" fill="#F84C0E" stroke="#000" stroke-width="1.5"/>
<line x1="1812.9" y1="598.49" x2="1812.9" y2="618.85" stroke="#000" stroke-width="1.2"/>
<line x1="1799.65" y1="599.09" x2="1826.15" y2="599.09" stroke="#000" stroke-width="1.2"/>
<rect x="1787.75" y="618" width="50.3" height="82.3" fill="#22F8FA" stroke="#000" stroke-width="1.5"/>
<line x1="1889.3" y1="619.24" x2="1889.3" y2="629.66" stroke="#000" stroke-width="1.2"/>
<line x1="1876.05" y1="619.84" x2="1902.55" y2="619.84" stroke="#000" stroke-width="1.2"/>
<rect x="1864.15" y="628.81" width="50.3" height="71.49" fill="#7F00FF" stroke="#000" stroke-width="1.5"/>
<text x="1574.8" y="604.9" font-size="16.2" font-weight="bold" text-anchor="middle" transform="rotate(-90 1574.8 604.9)" textLength="152" lengthAdjust="spacingAndGlyphs">ROS production (%)</text>
<path d="M1659.2 635.8 V510.3 H1729.6 V521.7" fill="none" stroke="#000" stroke-width="1.3"/>
<line x1="1643.7" y1="635.8" x2="1672.5" y2="635.8" stroke="#000" stroke-width="1.3"/>
<path d="M1735.5 523.3 V508.7 H1888.5 V593.7" fill="none" stroke="#000" stroke-width="1.3"/>
<line x1="1871.8" y1="593.7" x2="1903.3" y2="593.7" stroke="#000" stroke-width="1.3"/>
<line x1="1651.8" y1="590.6" x2="1812.2" y2="590.6" stroke="#000" stroke-width="1.3"/>
<text x="1675" y="586" font-size="14.8" stroke="#000" stroke-width="0.3">n.s.</text>
<text x="1687.5 1697.3" y="509.04" font-size="16.6" font-family="'DejaVu Sans', sans-serif" text-anchor="middle" stroke="#000" stroke-width="0.3">**</text>
<text x="1807.1 1816.9" y="509.04" font-size="16.6" font-family="'DejaVu Sans', sans-serif" text-anchor="middle" stroke="#000" stroke-width="0.3">**</text>
<text x="1630.3" y="732.4" font-size="18" font-weight="bold" text-anchor="end" textLength="140.8" lengthAdjust="spacingAndGlyphs">C75 [7.5 mg/mL]</text>
<text x="1630.3" y="759.4" font-size="18" font-weight="bold" text-anchor="end" textLength="187.8" lengthAdjust="spacingAndGlyphs">palmitate [75 mmol/L]</text>
<text x="1648.72" y="734.19" font-size="23.4" font-weight="bold">–</text>
<text x="1648.72" y="762.09" font-size="23.4" font-weight="bold">–</text>
<text x="1731.81" y="734.55" font-size="21.2" font-weight="bold">+</text>
<text x="1731.52" y="760.49" font-size="23.4" font-weight="bold">–</text>
<text x="1805.02" y="734.19" font-size="23.4" font-weight="bold">–</text>
<text x="1805.31" y="760.85" font-size="21.2" font-weight="bold">+</text>
<text x="1879.51" y="734.55" font-size="21.2" font-weight="bold">+</text>
<text x="1879.51" y="760.85" font-size="21.2" font-weight="bold">+</text>
<line x1="651.8" y1="790.9" x2="651.8" y2="998.2" stroke="#000" stroke-width="1.4"/>
<line x1="646.9" y1="997.5" x2="651.8" y2="997.5" stroke="#000" stroke-width="1.4"/>
<text x="646.7" y="1001.6" font-size="10.2" font-weight="bold" text-anchor="end">0</text>
<line x1="646.9" y1="968.09" x2="651.8" y2="968.09" stroke="#000" stroke-width="1.4"/>
<text x="646.7" y="972.19" font-size="10.2" font-weight="bold" text-anchor="end">10</text>
<line x1="646.9" y1="938.67" x2="651.8" y2="938.67" stroke="#000" stroke-width="1.4"/>
<text x="646.7" y="942.77" font-size="10.2" font-weight="bold" text-anchor="end">20</text>
<line x1="646.9" y1="909.26" x2="651.8" y2="909.26" stroke="#000" stroke-width="1.4"/>
<text x="646.7" y="913.36" font-size="10.2" font-weight="bold" text-anchor="end">30</text>
<line x1="646.9" y1="879.84" x2="651.8" y2="879.84" stroke="#000" stroke-width="1.4"/>
<text x="646.7" y="883.94" font-size="10.2" font-weight="bold" text-anchor="end">40</text>
<line x1="646.9" y1="850.43" x2="651.8" y2="850.43" stroke="#000" stroke-width="1.4"/>
<text x="646.7" y="854.53" font-size="10.2" font-weight="bold" text-anchor="end">50</text>
<line x1="646.9" y1="821.02" x2="651.8" y2="821.02" stroke="#000" stroke-width="1.4"/>
<text x="646.7" y="825.12" font-size="10.2" font-weight="bold" text-anchor="end">60</text>
<line x1="646.9" y1="791.6" x2="651.8" y2="791.6" stroke="#000" stroke-width="1.4"/>
<text x="646.7" y="795.7" font-size="10.2" font-weight="bold" text-anchor="end">70</text>
<line x1="651.1" y1="997.5" x2="966.5" y2="997.5" stroke="#000" stroke-width="1.4"/>
<line x1="677.95" y1="972.5" x2="677.95" y2="977.03" stroke="#000" stroke-width="1.2"/>
<line x1="668.45" y1="973.1" x2="687.45" y2="973.1" stroke="#000" stroke-width="1.2"/>
<rect x="660.85" y="976.78" width="34.2" height="20.72" fill="#fff" stroke="#000" stroke-width="1.5"/>
<line x1="730.75" y1="821.6" x2="730.75" y2="837.31" stroke="#000" stroke-width="1.2"/>
<line x1="721.25" y1="822.2" x2="740.25" y2="822.2" stroke="#000" stroke-width="1.2"/>
<rect x="713.65" y="837.06" width="34.2" height="160.44" fill="#F84C0E" stroke="#000" stroke-width="1.5"/>
<line x1="783.1" y1="967.2" x2="783.1" y2="974.67" stroke="#000" stroke-width="1.2"/>
<line x1="773.6" y1="967.8" x2="792.6" y2="967.8" stroke="#000" stroke-width="1.2"/>
<rect x="766.15" y="974.42" width="33.9" height="23.08" fill="#22F8FA" stroke="#000" stroke-width="1.5"/>
<line x1="835.9" y1="876.02" x2="835.9" y2="894.37" stroke="#000" stroke-width="1.2"/>
<line x1="826.4" y1="876.62" x2="845.4" y2="876.62" stroke="#000" stroke-width="1.2"/>
<rect x="818.95" y="894.12" width="33.9" height="103.38" fill="#7F00FF" stroke="#000" stroke-width="1.5"/>
<line x1="888.25" y1="917.2" x2="888.25" y2="932.91" stroke="#000" stroke-width="1.2"/>
<line x1="878.75" y1="917.8" x2="897.75" y2="917.8" stroke="#000" stroke-width="1.2"/>
<rect x="871.15" y="932.66" width="34.2" height="64.84" fill="#7F00FF" stroke="#000" stroke-width="1.5"/>
<line x1="940.75" y1="943.67" x2="940.75" y2="957.03" stroke="#000" stroke-width="1.2"/>
<line x1="931.25" y1="944.27" x2="950.25" y2="944.27" stroke="#000" stroke-width="1.2"/>
<rect x="923.65" y="956.78" width="34.2" height="40.72" fill="#7F00FF" stroke="#000" stroke-width="1.5"/>
<text x="612.9" y="894.5" font-size="16" font-weight="bold" text-anchor="middle" transform="rotate(-90 612.9 894.5)" textLength="145" lengthAdjust="spacingAndGlyphs">Apoptotic cells (%)</text>
<path d="M674.3 946.3 V805.3 H725.4 V817.7" fill="none" stroke="#000" stroke-width="1.3"/>
<line x1="663.4" y1="946.3" x2="684.4" y2="946.3" stroke="#000" stroke-width="1.3"/>
<path d="M731.4 814.8 V805.3 H920.1 V901.9" fill="none" stroke="#000" stroke-width="1.3"/>
<line x1="877.7" y1="901.9" x2="957.6" y2="901.9" stroke="#000" stroke-width="1.3"/>
<line x1="836.4" y1="805.3" x2="836.4" y2="859.8" stroke="#000" stroke-width="1.3"/>
<line x1="821.4" y1="859.8" x2="846.5" y2="859.8" stroke="#000" stroke-width="1.3"/>
<line x1="669.4" y1="962.5" x2="782.5" y2="962.5" stroke="#000" stroke-width="1.3"/>
<text x="685" y="959" font-size="14.8" stroke="#000" stroke-width="0.3">n.s.</text>
<text x="696.8 706.6" y="805.04" font-size="16.6" font-family="'DejaVu Sans', sans-serif" text-anchor="middle" stroke="#000" stroke-width="0.3">**</text>
<text x="843.7" y="851.74" font-size="16.6" font-family="'DejaVu Sans', sans-serif" text-anchor="middle" stroke="#000" stroke-width="0.3">*</text>
<text x="927.1 936.9" y="853.04" font-size="16.6" font-family="'DejaVu Sans', sans-serif" text-anchor="middle" stroke="#000" stroke-width="0.3">**</text>
<text x="659.3" y="1029.2" font-size="18" font-weight="bold" text-anchor="end" textLength="135.4" lengthAdjust="spacingAndGlyphs">C75 [7.5 µg/mL]</text>
<text x="658" y="1053.7" font-size="18" font-weight="bold" text-anchor="end" textLength="161.7" lengthAdjust="spacingAndGlyphs">palmitate [mmol/L]</text>
<text x="673.62" y="1029.29" font-size="23.4" font-weight="bold">–</text>
<text x="725.21" y="1032.35" font-size="21.2" font-weight="bold">+</text>
<text x="776.02" y="1029.29" font-size="23.4" font-weight="bold">–</text>
<text x="831.11" y="1032.35" font-size="21.2" font-weight="bold">+</text>
<text x="886.51" y="1032.35" font-size="21.2" font-weight="bold">+</text>
<text x="933.51" y="1032.35" font-size="21.2" font-weight="bold">+</text>
<text x="680.1" y="1053.7" font-size="21.5" font-weight="bold" text-anchor="middle">0</text>
<text x="731.4" y="1053.7" font-size="21.5" font-weight="bold" text-anchor="middle">0</text>
<text x="784.8" y="1053.7" font-size="21.5" font-weight="bold" text-anchor="middle">75</text>
<text x="838.2" y="1053.7" font-size="21.5" font-weight="bold" text-anchor="middle">25</text>
<text x="892.1" y="1053.7" font-size="21.5" font-weight="bold" text-anchor="middle">50</text>
<text x="940.3" y="1053.7" font-size="21.5" font-weight="bold" text-anchor="middle">75</text>
<text x="1064.2" y="844.4" font-size="28.6" font-weight="bold" fill="#B4566F" textLength="81" lengthAdjust="spacingAndGlyphs">FASNi</text>
<text x="1375.2" y="869.8" font-size="28" font-weight="bold" fill="#B4566F" textLength="57.4" lengthAdjust="spacingAndGlyphs">NAC</text>
<rect x="1099.6" y="852.3" width="7.2" height="47" fill="url(#fadeD)"/>
<rect x="1087.4" y="898.7" width="31.6" height="6.7" fill="#222222"/>
<rect x="1400.8" y="879.2" width="7.2" height="47" fill="url(#fadeD)"/>
<rect x="1388.6" y="925.6" width="31.3" height="6.8" fill="#222222"/>
<rect x="1164" y="947.2" width="42" height="7.5" fill="url(#fadeR)"/>
<polygon points="1202.8,937.8 1222.8,951 1202.8,963.9" fill="#222222"/>
<rect x="1320.7" y="947.2" width="48" height="7.5" fill="url(#fadeR)"/>
<rect x="1367.9" y="935.9" width="7.3" height="30.7" fill="#222222"/>
<rect x="1436.6" y="947.2" width="42" height="7.5" fill="url(#fadeR)"/>
<polygon points="1475.7,937.8 1496.8,951 1475.7,963.9" fill="#222222"/>
<text x="1168.3" y="928.7" font-size="16.6" font-weight="bold" textLength="91.2" lengthAdjust="spacingAndGlyphs">ΔΨm Loss</text>
<text x="1233" y="956.3" font-size="18" font-weight="bold" textLength="81" lengthAdjust="spacingAndGlyphs">Palmitate</text>
<text x="1381.9" y="956.3" font-size="18" font-weight="bold" textLength="38.6" lengthAdjust="spacingAndGlyphs">ROS</text>
<text x="1078.6" y="1019.6" font-size="27" font-weight="bold" textLength="73.4" lengthAdjust="spacingAndGlyphs">FASN</text>
<path d="M1135.45 880.86C1136 875.24 1137.71 867.67 1142 862.13C1146.3 856.59 1153.94 851.34 1161.2 847.62C1168.46 843.91 1177.58 841.49 1185.54 839.85C1193.5 838.21 1201.15 837.74 1208.95 837.79C1216.75 837.84 1224.56 838.26 1232.36 840.13C1240.16 842 1249.14 845.36 1255.77 849.03C1262.4 852.69 1267.91 857.61 1272.15 862.13C1276.4 866.66 1279.47 871.89 1281.24 876.18C1283 880.47 1283.23 883.9 1282.73 887.88C1282.23 891.86 1280.39 896.83 1278.24 900.06C1276.09 903.29 1273.09 905.55 1269.81 907.27C1266.54 908.98 1262.48 910.15 1258.58 910.36C1254.68 910.56 1251.55 909.93 1246.4 908.48C1241.25 907.03 1233.92 903.36 1227.68 901.65C1221.44 899.93 1215.19 898.34 1208.95 898.18C1202.71 898.03 1196.47 899.2 1190.22 900.71C1183.98 902.23 1176.65 905.81 1171.5 907.27C1166.35 908.72 1163.23 909.61 1159.33 909.42C1155.42 909.23 1151.52 908.41 1148.09 906.14C1144.66 903.88 1140.83 900.06 1138.73 895.84C1136.62 891.63 1134.9 886.48 1135.45 880.86Z" fill="#F7E5E3" stroke="#935658" stroke-width="1.5" stroke-dasharray="5.4 3.1"/>
<path d="M1143.03 879.93C1142.92 877.24 1143.16 874.2 1143.88 872.43C1144.59 870.67 1145.86 869.42 1147.34 869.34C1148.82 869.27 1151.12 871.17 1152.77 871.97C1154.43 872.76 1156.25 874.12 1157.27 874.12C1158.28 874.12 1158.95 873.5 1158.86 871.97C1158.76 870.44 1157.22 866.89 1156.7 864.94C1156.19 862.99 1155.33 861.64 1155.77 860.26C1156.2 858.89 1157.8 857.45 1159.33 856.7C1160.86 855.96 1163.23 855.33 1164.94 855.77C1166.66 856.2 1168.44 857.77 1169.63 859.33C1170.81 860.89 1171.28 863.76 1172.06 865.13C1172.84 866.5 1173.57 867.6 1174.31 867.57C1175.04 867.53 1176.12 866.79 1176.46 864.94C1176.8 863.1 1176.07 858.98 1176.37 856.52C1176.66 854.05 1176.71 851.84 1178.24 850.15C1179.77 848.46 1182.77 847.22 1185.54 846.4C1188.32 845.59 1192.57 845.12 1194.91 845.28C1197.25 845.44 1198.34 846.09 1199.59 847.34C1200.84 848.59 1201.73 851.16 1202.4 852.77C1203.07 854.38 1202.99 856.05 1203.61 856.99C1204.24 857.92 1205.3 858.47 1206.14 858.39C1206.99 858.31 1208.09 857.89 1208.67 856.52C1209.25 855.14 1208.9 851.84 1209.61 850.15C1210.31 848.46 1210.65 847.29 1212.88 846.4C1215.12 845.51 1219.75 844.92 1223 844.81C1226.24 844.7 1230.02 845.02 1232.36 845.75C1234.7 846.48 1236.07 847.54 1237.04 849.21C1238.01 850.88 1238.16 853.43 1238.16 855.77C1238.16 858.11 1236.89 861.29 1237.04 863.26C1237.2 865.22 1238.13 867.25 1239.1 867.57C1240.07 867.88 1241.91 866.47 1242.85 865.13C1243.78 863.79 1243.78 861.07 1244.72 859.51C1245.66 857.95 1246.9 856.27 1248.46 855.77C1250.02 855.27 1252.52 855.58 1254.08 856.52C1255.64 857.45 1256.92 859.36 1257.83 861.39C1258.73 863.41 1259.14 866.41 1259.51 868.69C1259.89 870.97 1259.61 873.65 1260.07 875.06C1260.54 876.46 1261.48 877.21 1262.32 877.12C1263.16 877.02 1264.32 875.71 1265.13 874.49C1265.94 873.28 1266.22 870.47 1267.19 869.81C1268.16 869.16 1269.72 869.19 1270.94 870.56C1272.15 871.94 1273.75 875.56 1274.49 878.05C1275.24 880.55 1275.59 883.05 1275.43 885.54C1275.27 888.04 1274.81 890.69 1273.56 893.03C1272.31 895.37 1270.12 898.03 1267.94 899.59C1265.76 901.15 1262.32 902.24 1260.45 902.4C1258.58 902.55 1257.55 901.77 1256.7 900.52C1255.86 899.28 1255.74 896.59 1255.39 894.91C1255.05 893.22 1255.36 891.5 1254.64 890.41C1253.93 889.32 1252.12 888.23 1251.09 888.35C1250.06 888.48 1249.09 889.76 1248.46 891.16C1247.84 892.57 1248 895.37 1247.34 896.78C1246.69 898.18 1246.25 899.28 1244.53 899.59C1242.82 899.9 1239.35 899.59 1237.04 898.65C1234.73 897.72 1232.2 896.12 1230.67 893.97C1229.14 891.82 1228.4 887.88 1227.87 885.73C1227.33 883.58 1228.07 882.17 1227.49 881.05C1226.91 879.93 1225.37 878.86 1224.4 878.99C1223.43 879.11 1222.31 880.39 1221.69 881.8C1221.06 883.2 1221.53 885.86 1220.66 887.42C1219.78 888.98 1218.39 890.38 1216.44 891.16C1214.49 891.94 1211.29 892.25 1208.95 892.1C1206.61 891.94 1204.08 891.47 1202.4 890.22C1200.71 888.98 1199.74 886.92 1198.84 884.61C1197.93 882.3 1197.93 878.4 1196.97 876.37C1196 874.34 1194.22 872.43 1193.03 872.43C1191.85 872.43 1190.32 874.18 1189.85 876.37C1189.38 878.55 1190.47 882.92 1190.22 885.54C1189.98 888.16 1189.44 890.54 1188.35 892.1C1187.26 893.66 1186.64 893.78 1183.67 894.91C1180.71 896.03 1173.34 898.53 1170.56 898.84C1167.78 899.15 1167.78 898.03 1167 896.78C1166.22 895.53 1166.46 892.88 1165.88 891.35C1165.3 889.82 1164.38 887.76 1163.54 887.6C1162.7 887.45 1161.53 888.73 1160.82 890.41C1160.12 892.1 1160.2 896.03 1159.33 897.72C1158.45 899.4 1157.14 900.68 1155.58 900.52C1154.02 900.37 1151.8 898.78 1149.96 896.78C1148.12 894.78 1145.69 891.35 1144.53 888.54C1143.38 885.73 1143.14 882.61 1143.03 879.93Z" fill="#FBF1EF" stroke="#A96A68" stroke-width="1.5"/>
<circle cx="1205.21" cy="842.94" r="2.1" fill="#BE2C9A"/>
<circle cx="1171.31" cy="851.65" r="2.1" fill="#BE2C9A"/>
<circle cx="1244.06" cy="850.71" r="2.1" fill="#BE2C9A"/>
<circle cx="1150.9" cy="862.88" r="2.1" fill="#BE2C9A"/>
<circle cx="1264.48" cy="863.54" r="2.1" fill="#BE2C9A"/>
<circle cx="1140.41" cy="889.48" r="2.1" fill="#BE2C9A"/>
<circle cx="1277.12" cy="889.48" r="2.1" fill="#BE2C9A"/>
<circle cx="1192.57" cy="893.69" r="2.1" fill="#BE2C9A"/>
<circle cx="1220.66" cy="894.91" r="2.1" fill="#BE2C9A"/>
<circle cx="1163.54" cy="902.58" r="2.1" fill="#BE2C9A"/>
<circle cx="1251.09" cy="905.67" r="2.1" fill="#BE2C9A"/>
<text x="1214.4" y="871.3" font-size="10.4" font-weight="bold" text-anchor="middle" fill="#BE2C9A">Cyt c</text>
<path d="M1498.45 904.66C1499 899.04 1500.71 891.47 1505 885.93C1509.3 880.39 1516.94 875.14 1524.2 871.42C1531.46 867.71 1540.58 865.29 1548.54 863.65C1556.5 862.01 1564.15 861.54 1571.95 861.59C1579.75 861.64 1587.56 862.06 1595.36 863.93C1603.16 865.8 1612.14 869.16 1618.77 872.83C1625.4 876.49 1630.91 881.41 1635.15 885.93C1639.4 890.46 1642.47 895.69 1644.24 899.98C1646 904.27 1646.23 907.7 1645.73 911.68C1645.23 915.66 1643.39 920.63 1641.24 923.86C1639.09 927.09 1636.09 929.35 1632.81 931.07C1629.54 932.78 1625.48 933.95 1621.58 934.16C1617.68 934.36 1614.55 933.73 1609.4 932.28C1604.25 930.83 1596.92 927.16 1590.68 925.45C1584.44 923.73 1578.19 922.14 1571.95 921.98C1565.71 921.83 1559.47 923 1553.22 924.51C1546.98 926.03 1539.65 929.61 1534.5 931.07C1529.35 932.52 1526.23 933.41 1522.33 933.22C1518.42 933.03 1514.52 932.21 1511.09 929.94C1507.66 927.68 1503.83 923.86 1501.73 919.64C1499.62 915.43 1497.9 910.28 1498.45 904.66Z" fill="#F7E5E3" stroke="#935658" stroke-width="1.5" stroke-dasharray="5.4 3.1"/>
<path d="M1506.03 903.73C1505.92 901.04 1506.16 898 1506.88 896.23C1507.59 894.47 1508.86 893.22 1510.34 893.14C1511.82 893.07 1514.12 894.97 1515.77 895.77C1517.43 896.56 1519.25 897.92 1520.27 897.92C1521.28 897.92 1521.95 897.3 1521.86 895.77C1521.76 894.24 1520.22 890.69 1519.7 888.74C1519.19 886.79 1518.33 885.44 1518.77 884.06C1519.2 882.69 1520.8 881.25 1522.33 880.5C1523.86 879.76 1526.23 879.13 1527.94 879.57C1529.66 880 1531.44 881.57 1532.63 883.13C1533.81 884.69 1534.28 887.56 1535.06 888.93C1535.84 890.3 1536.57 891.4 1537.31 891.37C1538.04 891.33 1539.12 890.59 1539.46 888.74C1539.8 886.9 1539.07 882.78 1539.37 880.32C1539.66 877.85 1539.71 875.64 1541.24 873.95C1542.77 872.26 1545.77 871.02 1548.54 870.2C1551.32 869.39 1555.57 868.92 1557.91 869.08C1560.25 869.24 1561.34 869.89 1562.59 871.14C1563.84 872.39 1564.73 874.96 1565.4 876.57C1566.07 878.18 1565.99 879.85 1566.61 880.79C1567.24 881.72 1568.3 882.27 1569.14 882.19C1569.99 882.11 1571.09 881.69 1571.67 880.32C1572.25 878.94 1571.9 875.64 1572.61 873.95C1573.31 872.26 1573.65 871.09 1575.88 870.2C1578.12 869.31 1582.75 868.72 1586 868.61C1589.24 868.5 1593.02 868.82 1595.36 869.55C1597.7 870.28 1599.07 871.34 1600.04 873.01C1601.01 874.68 1601.16 877.23 1601.16 879.57C1601.16 881.91 1599.89 885.09 1600.04 887.06C1600.2 889.02 1601.13 891.05 1602.1 891.37C1603.07 891.68 1604.91 890.27 1605.85 888.93C1606.78 887.59 1606.78 884.87 1607.72 883.31C1608.66 881.75 1609.9 880.07 1611.46 879.57C1613.02 879.07 1615.52 879.38 1617.08 880.32C1618.64 881.25 1619.92 883.16 1620.83 885.19C1621.73 887.21 1622.14 890.21 1622.51 892.49C1622.89 894.77 1622.61 897.45 1623.07 898.86C1623.54 900.26 1624.48 901.01 1625.32 900.92C1626.16 900.82 1627.32 899.51 1628.13 898.29C1628.94 897.08 1629.22 894.27 1630.19 893.61C1631.16 892.96 1632.72 892.99 1633.94 894.36C1635.15 895.74 1636.75 899.36 1637.49 901.85C1638.24 904.35 1638.59 906.85 1638.43 909.34C1638.27 911.84 1637.81 914.49 1636.56 916.83C1635.31 919.17 1633.12 921.83 1630.94 923.39C1628.76 924.95 1625.32 926.04 1623.45 926.2C1621.58 926.35 1620.55 925.57 1619.7 924.32C1618.86 923.08 1618.74 920.39 1618.39 918.71C1618.05 917.02 1618.36 915.3 1617.64 914.21C1616.93 913.12 1615.12 912.03 1614.09 912.15C1613.06 912.28 1612.09 913.56 1611.46 914.96C1610.84 916.37 1611 919.17 1610.34 920.58C1609.69 921.98 1609.25 923.08 1607.53 923.39C1605.82 923.7 1602.35 923.39 1600.04 922.45C1597.73 921.52 1595.2 919.92 1593.67 917.77C1592.14 915.62 1591.4 911.68 1590.87 909.53C1590.33 907.38 1591.07 905.97 1590.49 904.85C1589.91 903.73 1588.37 902.66 1587.4 902.79C1586.43 902.91 1585.31 904.19 1584.69 905.6C1584.06 907 1584.53 909.66 1583.66 911.22C1582.78 912.78 1581.39 914.18 1579.44 914.96C1577.49 915.74 1574.29 916.05 1571.95 915.9C1569.61 915.74 1567.08 915.27 1565.4 914.02C1563.71 912.78 1562.74 910.72 1561.84 908.41C1560.93 906.1 1560.93 902.2 1559.97 900.17C1559 898.14 1557.22 896.23 1556.03 896.23C1554.85 896.23 1553.32 897.98 1552.85 900.17C1552.38 902.35 1553.47 906.72 1553.22 909.34C1552.98 911.96 1552.44 914.34 1551.35 915.9C1550.26 917.46 1549.64 917.58 1546.67 918.71C1543.71 919.83 1536.34 922.33 1533.56 922.64C1530.78 922.95 1530.78 921.83 1530 920.58C1529.22 919.33 1529.46 916.68 1528.88 915.15C1528.3 913.62 1527.38 911.56 1526.54 911.4C1525.7 911.25 1524.53 912.53 1523.82 914.21C1523.12 915.9 1523.2 919.83 1522.33 921.52C1521.45 923.2 1520.14 924.48 1518.58 924.32C1517.02 924.17 1514.8 922.58 1512.96 920.58C1511.12 918.58 1508.69 915.15 1507.53 912.34C1506.38 909.53 1506.14 906.41 1506.03 903.73Z" fill="#FBF1EF" stroke="#A96A68" stroke-width="1.5"/>
<circle cx="1523" cy="926.7" r="2.1" fill="#BE2C9A"/>
<circle cx="1555.6" cy="917.7" r="2.1" fill="#BE2C9A"/>
<circle cx="1583.8" cy="919.2" r="2.1" fill="#BE2C9A"/>
<circle cx="1614.5" cy="929.8" r="2.1" fill="#BE2C9A"/>
<circle cx="1557.9" cy="929.8" r="2.1" fill="#BE2C9A"/>
<circle cx="1560.9" cy="935.7" r="2.1" fill="#BE2C9A"/>
<circle cx="1550.7" cy="940.3" r="2.1" fill="#BE2C9A"/>
<circle cx="1560.9" cy="945.4" r="2.1" fill="#BE2C9A"/>
<circle cx="1551.1" cy="951.4" r="2.1" fill="#BE2C9A"/>
<circle cx="1557.6" cy="951.8" r="2.1" fill="#BE2C9A"/>
<circle cx="1545.6" cy="960.4" r="2.1" fill="#BE2C9A"/>
<circle cx="1557.4" cy="960.8" r="2.1" fill="#BE2C9A"/>
<circle cx="1551.9" cy="966.1" r="2.1" fill="#BE2C9A"/>
<circle cx="1589.3" cy="934.9" r="2.1" fill="#BE2C9A"/>
<circle cx="1600.5" cy="940.6" r="2.1" fill="#BE2C9A"/>
<circle cx="1589.3" cy="945.1" r="2.1" fill="#BE2C9A"/>
<circle cx="1600.5" cy="950.3" r="2.1" fill="#BE2C9A"/>
<circle cx="1589.3" cy="951.5" r="2.1" fill="#BE2C9A"/>
<circle cx="1595.3" cy="957.1" r="2.1" fill="#BE2C9A"/>
<circle cx="1609.5" cy="957.1" r="2.1" fill="#BE2C9A"/>
<circle cx="1600.5" cy="961.1" r="2.1" fill="#BE2C9A"/>
<circle cx="1609.5" cy="966.1" r="2.1" fill="#BE2C9A"/>
<text x="1515.9" y="951.3" font-size="10.6" font-weight="bold" fill="#BE2C9A" textLength="25.2" lengthAdjust="spacingAndGlyphs">Cyt c</text>
<text x="1613.8" y="951.3" font-size="10.6" font-weight="bold" fill="#BE2C9A" textLength="25.2" lengthAdjust="spacingAndGlyphs">Cyt c</text>
<rect x="1528" y="975.8" width="104.3" height="23.6" fill="#B5627A" stroke="#8E3A55" stroke-width="1"/>
<text x="1580.2" y="993" font-size="15.4" stroke="#fff" stroke-width="0.3" text-anchor="middle" fill="#fff" textLength="67.4" lengthAdjust="spacingAndGlyphs">Apoptosis</text>
<defs><clipPath id="fup"><path d="M1070.6 937.45C1070.52 935.42 1070.91 932.77 1072 930.9C1073.1 929.03 1075.44 927.62 1077.15 926.22C1078.87 924.81 1079.81 923.28 1082.3 922.47C1084.8 921.66 1089.72 921.27 1092.13 921.35C1094.55 921.43 1095.41 923.19 1096.82 922.94C1098.22 922.69 1099 920.08 1100.56 919.85C1102.12 919.62 1104.46 920.94 1106.18 921.54C1107.9 922.13 1108.36 923.13 1110.86 923.41C1113.36 923.69 1118.35 923.33 1121.16 923.22C1123.97 923.11 1125.53 922.72 1127.72 922.75C1129.9 922.78 1132.68 922.52 1134.27 923.41C1135.86 924.3 1136.7 926.06 1137.27 928.09C1137.83 930.12 1136.74 933.71 1137.64 935.58C1138.55 937.45 1141.51 938.16 1142.7 939.33C1143.88 940.5 1143.66 942.13 1144.76 942.6C1145.85 943.07 1148.1 941.12 1149.25 942.13C1150.41 943.15 1151.06 946.5 1151.69 948.69C1152.31 950.87 1153 953.21 1153 955.24C1153 957.27 1152.78 959.14 1151.69 960.86C1150.59 962.58 1148.41 964.58 1146.44 965.54C1144.48 966.51 1142.23 967.1 1139.89 966.67C1137.55 966.23 1134.19 964.48 1132.4 962.92C1130.6 961.36 1129.59 958.71 1129.12 957.3C1128.65 955.9 1130.29 954.81 1129.59 954.49C1128.89 954.18 1126.47 954.81 1124.91 955.43C1123.35 956.05 1121.79 958.24 1120.22 958.24C1118.66 958.24 1117.26 956.24 1115.54 955.43C1113.83 954.62 1112.11 953.68 1109.93 953.37C1107.74 953.06 1104.78 953.78 1102.43 953.56C1100.09 953.34 1097.36 952.87 1095.88 952.06C1094.4 951.25 1094.04 949.84 1093.54 948.69C1093.04 947.53 1093.59 945.26 1092.88 945.13C1092.18 945.01 1090.7 947 1089.33 947.94C1087.95 948.88 1086.36 950.44 1084.64 950.75C1082.93 951.06 1080.43 950.59 1079.03 949.81C1077.62 949.03 1077.31 947.19 1076.22 946.07C1075.12 944.94 1073.41 944.51 1072.47 943.07C1071.54 941.64 1070.68 939.48 1070.6 937.45Z"/></clipPath><clipPath id="flo"><path d="M1064.98 965.54C1065.92 963.9 1069.35 960.86 1071.54 960.39C1073.72 959.93 1076.06 962.66 1078.09 962.73C1080.12 962.81 1081.68 961.49 1083.71 960.86C1085.74 960.24 1088.39 959.14 1090.26 958.99C1092.13 958.83 1093.85 960.39 1094.94 959.93C1096.04 959.46 1095.57 957.19 1096.82 956.18C1098.06 955.17 1100.09 954.15 1102.43 953.84C1104.78 953.53 1108.36 953.6 1110.86 954.31C1113.36 955.01 1115.86 956.8 1117.42 958.05C1118.98 959.3 1119.57 960.55 1120.22 961.8C1120.88 963.05 1120.26 964.76 1121.35 965.54C1122.44 966.32 1124.63 965.7 1126.78 966.48C1128.93 967.26 1131.77 969.29 1134.27 970.22C1136.77 971.16 1139.73 971.29 1141.76 972.1C1143.79 972.91 1145.94 973.69 1146.44 975.09C1146.94 976.5 1145.85 978.96 1144.76 980.52C1143.66 982.08 1141.64 983.05 1139.89 984.46C1138.14 985.86 1136.42 988.01 1134.27 988.95C1132.12 989.89 1128.68 990.54 1126.97 990.07C1125.25 989.61 1125.25 987.42 1123.97 986.14C1122.69 984.86 1121 983.3 1119.29 982.4C1117.57 981.49 1115.54 981.15 1113.67 980.71C1111.8 980.27 1109.46 979.49 1108.05 979.78C1106.65 980.06 1106.18 982.12 1105.24 982.4C1104.31 982.68 1103.21 982.4 1102.43 981.46C1101.65 980.52 1101.81 978.03 1100.56 976.78C1099.31 975.53 1096.5 974.44 1094.94 973.97C1093.38 973.5 1092.45 973.35 1091.2 973.97C1089.95 974.59 1088.55 976.31 1087.45 977.72C1086.36 979.12 1086.2 981.27 1084.64 982.4C1083.08 983.52 1079.81 984.05 1078.09 984.46C1076.37 984.86 1075.44 985.49 1074.34 984.83C1073.25 984.18 1072.63 982.18 1071.54 980.52C1070.44 978.87 1068.73 976.62 1067.79 974.91C1066.85 973.19 1066.39 971.79 1065.92 970.22C1065.45 968.66 1064.04 967.18 1064.98 965.54Z"/></clipPath>
<filter id="bump" x="0" y="0" width="100%" height="100%"><feTurbulence type="fractalNoise" baseFrequency="0.3" numOctaves="2" seed="7" result="n"/><feColorMatrix in="n" type="matrix" values="0 0 0 0 0  0 0 0 0 0  0 0 0 0 0  2.2 0 0 0 -0.6" result="na"/><feColorMatrix in="na" type="matrix" values="0 0 0 1 0  0 0 0 1 0  0 0 0 1 0  0 0 0 0 1" result="g"/><feComposite in="SourceGraphic" in2="g" operator="arithmetic" k1="0.5" k2="0.84" k3="0" k4="0"/></filter></defs>
<g filter="url(#bump)">
<g clip-path="url(#fup)"><rect x="1065" y="915" width="92" height="55" fill="#F09A0C"/><g filter="url(#b06)">
<ellipse cx="1073.88" cy="936.52" rx="5.62" ry="9.83" fill="#B4AC08"/>
<ellipse cx="1081.84" cy="947.28" rx="8.9" ry="5.62" fill="#5E9A12"/>
<ellipse cx="1088.39" cy="932.3" rx="12.36" ry="11.05" fill="#F07228"/>
<ellipse cx="1088.86" cy="941.67" rx="4.21" ry="4.68" fill="#E2483C"/>
<ellipse cx="1103.84" cy="923.41" rx="7.68" ry="4.87" fill="#CBA60A"/>
<ellipse cx="1132.4" cy="928.09" rx="6.55" ry="5.62" fill="#F08614"/>
<ellipse cx="1105.24" cy="942.13" rx="13.58" ry="11.7" fill="#22BE4C"/>
<ellipse cx="1119.29" cy="951.31" rx="13.11" ry="6.74" fill="#24B850" transform="rotate(15 1119.29 951.31)"/>
<ellipse cx="1135.21" cy="944.01" rx="4.21" ry="7.3" fill="#D8B010" transform="rotate(-30 1135.21 944.01)"/>
<ellipse cx="1140.64" cy="940.73" rx="3.93" ry="2.81" fill="#E04838"/>
<ellipse cx="1141.76" cy="955.71" rx="12.36" ry="12.17" fill="#6CBC18"/>
<ellipse cx="1148.78" cy="948.69" rx="4.68" ry="7.3" fill="#98B414"/>
<ellipse cx="1129.59" cy="953.93" rx="2.81" ry="2.06" fill="#E04040"/>
</g></g>
<g clip-path="url(#flo)"><rect x="1062" y="950" width="92" height="45" fill="#2498D8"/><g filter="url(#b06)">
<ellipse cx="1077.15" cy="972.57" rx="17.79" ry="14.04" fill="#16A6A2"/>
<ellipse cx="1137.08" cy="981.46" rx="11.7" ry="8.9" fill="#1A98B8" transform="rotate(25 1137.08 981.46)"/>
<ellipse cx="1122.1" cy="972.1" rx="3.75" ry="5.62" fill="#1CA08C" transform="rotate(20 1122.1 972.1)"/>
<ellipse cx="1107.12" cy="961.33" rx="13.3" ry="8.99" fill="#6458E0" transform="rotate(12 1107.12 961.33)"/>
<ellipse cx="1102.43" cy="970.41" rx="7.68" ry="6.74" fill="#3E7CE4"/>
</g></g>
</g>
<polygon points="1691.2,949.9 1741.1,873 1741.1,949.9" fill="#000"/>
<text x="1667.7" y="964.1" font-size="11.9" textLength="100.9" lengthAdjust="spacingAndGlyphs"><tspan font-weight="bold">FASN</tspan> dependency</text>
<text x="1739.7" y="863" font-size="12" stroke="#000" stroke-width="0.3" textLength="60.7" lengthAdjust="spacingAndGlyphs">ΔΨm Loss</text>
<text x="1808.5" y="863" font-size="12" stroke="#000" stroke-width="0.3" textLength="27" lengthAdjust="spacingAndGlyphs">ROS</text>
<text x="1843.5" y="863" font-size="12" stroke="#000" stroke-width="0.3" textLength="57.2" lengthAdjust="spacingAndGlyphs">Apoptosis</text>
<circle cx="1768.8" cy="884.6" r="14.6" fill="#4AAB4A"/>
<rect x="1758" y="882" width="21.6" height="5.2" fill="#fff"/>
<rect x="1766.2" y="873.8" width="5.2" height="21.6" fill="#fff"/>
<circle cx="1820.6" cy="885" r="15.2" fill="#DA5675"/>
<rect x="1809.4" y="882.4" width="22.4" height="5.2" fill="#fff"/>
<circle cx="1871.3" cy="885" r="15.2" fill="#DA5675"/>
<rect x="1860.1" y="882.4" width="22.4" height="5.2" fill="#fff"/>
<circle cx="1769.9" cy="930.2" r="21.2" fill="#4AAB4A"/>
<rect x="1754.4" y="926.85" width="31" height="6.7" fill="#fff"/>
<rect x="1766.55" y="914.7" width="6.7" height="31" fill="#fff"/>
<circle cx="1821.4" cy="930.2" r="21.2" fill="#4AAB4A"/>
<rect x="1805.9" y="926.85" width="31" height="6.7" fill="#fff"/>
<rect x="1818.05" y="914.7" width="6.7" height="31" fill="#fff"/>
<circle cx="1873.2" cy="930.2" r="21.2" fill="#4AAB4A"/>
<rect x="1857.7" y="926.85" width="31" height="6.7" fill="#fff"/>
<rect x="1869.85" y="914.7" width="6.7" height="31" fill="#fff"/>
</svg>
</body></html>
